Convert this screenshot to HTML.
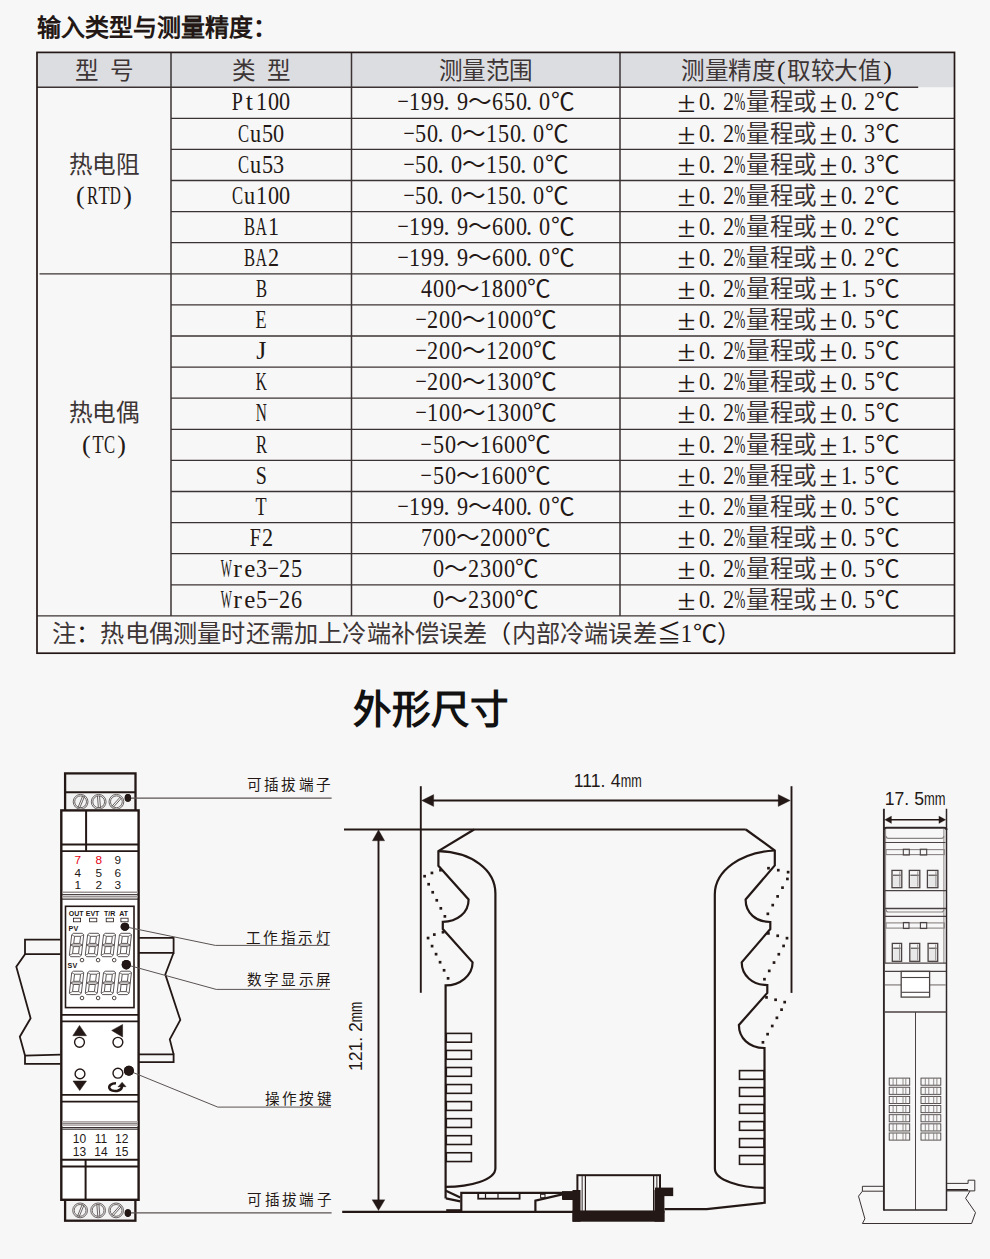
<!DOCTYPE html>
<html lang="zh-CN"><head><meta charset="utf-8"><style>
html,body{margin:0;padding:0;}
body{width:990px;height:1259px;background:#f7f7f7;position:relative;overflow:hidden;font-family:"Liberation Serif",serif;color:#231815;}
.t{position:absolute;white-space:nowrap;font-size:23.6px;line-height:26px;height:26px;}
.t i{display:inline-block;font-style:normal;text-align:center;}
.t b{display:inline-block;font-weight:normal;margin:0 -20px;}
.t b.l{font-size:26px;}
.t i.c{color:#3d3535;}
.h1{position:absolute;left:37px;top:13px;font-size:24px;font-weight:bold;line-height:30px;white-space:nowrap;letter-spacing:0px;}
.h2{position:absolute;left:352.5px;top:685px;font-family:"Liberation Sans",sans-serif;font-size:38.5px;font-weight:bold;line-height:50px;color:#111;white-space:nowrap;}
svg{position:absolute;left:0;top:0;}
</style></head><body>

<div class="h1">输入类型与测量精度：</div>
<svg width="990" height="1259" viewBox="0 0 990 1259"><rect x="37.0" y="52.4" width="917.5" height="34.800000000000004" fill="#dcdde1"/>
<line x1="171.0" y1="118.30" x2="954.5" y2="118.30" stroke="#3b3333" stroke-width="1.3"/>
<line x1="171.0" y1="149.40" x2="954.5" y2="149.40" stroke="#3b3333" stroke-width="1.3"/>
<line x1="171.0" y1="180.50" x2="954.5" y2="180.50" stroke="#3b3333" stroke-width="1.3"/>
<line x1="171.0" y1="211.60" x2="954.5" y2="211.60" stroke="#3b3333" stroke-width="1.3"/>
<line x1="171.0" y1="242.70" x2="954.5" y2="242.70" stroke="#3b3333" stroke-width="1.3"/>
<line x1="39.5" y1="273.80" x2="954.5" y2="273.80" stroke="#3b3333" stroke-width="1.3"/>
<line x1="171.0" y1="304.90" x2="954.5" y2="304.90" stroke="#3b3333" stroke-width="1.3"/>
<line x1="171.0" y1="336.00" x2="954.5" y2="336.00" stroke="#3b3333" stroke-width="1.3"/>
<line x1="171.0" y1="367.10" x2="954.5" y2="367.10" stroke="#3b3333" stroke-width="1.3"/>
<line x1="171.0" y1="398.20" x2="954.5" y2="398.20" stroke="#3b3333" stroke-width="1.3"/>
<line x1="171.0" y1="429.30" x2="954.5" y2="429.30" stroke="#3b3333" stroke-width="1.3"/>
<line x1="171.0" y1="460.40" x2="954.5" y2="460.40" stroke="#3b3333" stroke-width="1.3"/>
<line x1="171.0" y1="491.50" x2="954.5" y2="491.50" stroke="#3b3333" stroke-width="1.3"/>
<line x1="171.0" y1="522.60" x2="954.5" y2="522.60" stroke="#3b3333" stroke-width="1.3"/>
<line x1="171.0" y1="553.70" x2="954.5" y2="553.70" stroke="#3b3333" stroke-width="1.3"/>
<line x1="171.0" y1="584.80" x2="954.5" y2="584.80" stroke="#3b3333" stroke-width="1.3"/>
<line x1="37.0" y1="615.90" x2="954.5" y2="615.90" stroke="#3b3333" stroke-width="1.3"/>
<line x1="37.0" y1="87.2" x2="918.2" y2="87.2" stroke="#3b3333" stroke-width="1.5"/>
<line x1="171.0" y1="52.4" x2="171.0" y2="615.90" stroke="#3b3333" stroke-width="1.5"/>
<line x1="351.5" y1="52.4" x2="351.5" y2="615.90" stroke="#3b3333" stroke-width="1.5"/>
<line x1="620.0" y1="52.4" x2="620.0" y2="615.90" stroke="#3b3333" stroke-width="1.5"/>
<rect x="37.0" y="52.4" width="917.5" height="600.8000000000001" fill="none" stroke="#231815" stroke-width="1.7"/></svg>
<div class="t" style="left:74.50px;top:58.00px;"><i class="c" style="width:23.60px">型</i><i style="width:11.80px"></i><i class="c" style="width:23.60px">号</i></div>
<div class="t" style="left:231.75px;top:58.00px;"><i class="c" style="width:23.60px">类</i><i style="width:11.80px"></i><i class="c" style="width:23.60px">型</i></div>
<div class="t" style="left:438.55px;top:58.00px;"><i class="c" style="width:23.60px">测</i><i class="c" style="width:23.60px">量</i><i class="c" style="width:23.60px">范</i><i class="c" style="width:23.60px">围</i></div>
<div class="t" style="left:681.05px;top:58.00px;"><i class="c" style="width:23.60px">测</i><i class="c" style="width:23.60px">量</i><i class="c" style="width:23.60px">精</i><i class="c" style="width:23.60px">度</i><i style="width:11.80px"><b class="l" style="transform:scaleX(1.000)">(</b></i><i class="c" style="width:23.60px">取</i><i class="c" style="width:23.60px">较</i><i class="c" style="width:23.60px">大</i><i class="c" style="width:23.60px">值</i><i style="width:11.80px"><b class="l" style="transform:scaleX(1.000)">)</b></i></div>
<div class="t" style="left:231.75px;top:89.45px;"><i style="width:11.80px"><b class="l" style="transform:scaleX(0.767)">P</b></i><i style="width:11.80px"><b class="l" style="transform:scaleX(1.000)">t</b></i><i style="width:11.80px"><b class="l" style="transform:scaleX(0.853)">1</b></i><i style="width:11.80px"><b class="l" style="transform:scaleX(0.853)">0</b></i><i style="width:11.80px"><b class="l" style="transform:scaleX(0.853)">0</b></i></div>
<div class="t" style="left:397.25px;top:89.45px;"><i style="width:11.80px"><b class="l" style="transform:scaleX(0.78)">&#8722;</b></i><i style="width:11.80px"><b class="l" style="transform:scaleX(0.853)">1</b></i><i style="width:11.80px"><b class="l" style="transform:scaleX(0.853)">9</b></i><i style="width:11.80px"><b class="l" style="transform:scaleX(0.853)">9</b></i><i style="width:11.80px;text-align:left"><b class="l" style="margin:0 0 0 -1.2px">.</b></i><i style="width:11.80px"><b class="l" style="transform:scaleX(0.853)">9</b></i><i style="width:23.60px">～</i><i style="width:11.80px"><b class="l" style="transform:scaleX(0.853)">6</b></i><i style="width:11.80px"><b class="l" style="transform:scaleX(0.853)">5</b></i><i style="width:11.80px"><b class="l" style="transform:scaleX(0.853)">0</b></i><i style="width:11.80px;text-align:left"><b class="l" style="margin:0 0 0 -1.2px">.</b></i><i style="width:11.80px"><b class="l" style="transform:scaleX(0.853)">0</b></i><i style="width:23.60px">℃</i></div>
<div class="t" style="left:675.15px;top:89.45px;"><i style="width:23.60px"><b style="transform:scale(1.38,1.28)">±</b></i><i style="width:11.80px"><b class="l" style="transform:scaleX(0.853)">0</b></i><i style="width:11.80px;text-align:left"><b class="l" style="margin:0 0 0 -1.2px">.</b></i><i style="width:11.80px"><b class="l" style="transform:scaleX(0.853)">2</b></i><i style="width:11.80px"><b class="l" style="transform:scaleX(0.512)">%</b></i><i class="c" style="width:23.60px">量</i><i class="c" style="width:23.60px">程</i><i class="c" style="width:23.60px">或</i><i style="width:23.60px"><b style="transform:scale(1.38,1.28)">±</b></i><i style="width:11.80px"><b class="l" style="transform:scaleX(0.853)">0</b></i><i style="width:11.80px;text-align:left"><b class="l" style="margin:0 0 0 -1.2px">.</b></i><i style="width:11.80px"><b class="l" style="transform:scaleX(0.853)">2</b></i><i style="width:23.60px">℃</i></div>
<div class="t" style="left:237.65px;top:120.55px;"><i style="width:11.80px"><b class="l" style="transform:scaleX(0.640)">C</b></i><i style="width:11.80px"><b class="l" style="transform:scaleX(0.853)">u</b></i><i style="width:11.80px"><b class="l" style="transform:scaleX(0.853)">5</b></i><i style="width:11.80px"><b class="l" style="transform:scaleX(0.853)">0</b></i></div>
<div class="t" style="left:403.15px;top:120.55px;"><i style="width:11.80px"><b class="l" style="transform:scaleX(0.78)">&#8722;</b></i><i style="width:11.80px"><b class="l" style="transform:scaleX(0.853)">5</b></i><i style="width:11.80px"><b class="l" style="transform:scaleX(0.853)">0</b></i><i style="width:11.80px;text-align:left"><b class="l" style="margin:0 0 0 -1.2px">.</b></i><i style="width:11.80px"><b class="l" style="transform:scaleX(0.853)">0</b></i><i style="width:23.60px">～</i><i style="width:11.80px"><b class="l" style="transform:scaleX(0.853)">1</b></i><i style="width:11.80px"><b class="l" style="transform:scaleX(0.853)">5</b></i><i style="width:11.80px"><b class="l" style="transform:scaleX(0.853)">0</b></i><i style="width:11.80px;text-align:left"><b class="l" style="margin:0 0 0 -1.2px">.</b></i><i style="width:11.80px"><b class="l" style="transform:scaleX(0.853)">0</b></i><i style="width:23.60px">℃</i></div>
<div class="t" style="left:675.15px;top:120.55px;"><i style="width:23.60px"><b style="transform:scale(1.38,1.28)">±</b></i><i style="width:11.80px"><b class="l" style="transform:scaleX(0.853)">0</b></i><i style="width:11.80px;text-align:left"><b class="l" style="margin:0 0 0 -1.2px">.</b></i><i style="width:11.80px"><b class="l" style="transform:scaleX(0.853)">2</b></i><i style="width:11.80px"><b class="l" style="transform:scaleX(0.512)">%</b></i><i class="c" style="width:23.60px">量</i><i class="c" style="width:23.60px">程</i><i class="c" style="width:23.60px">或</i><i style="width:23.60px"><b style="transform:scale(1.38,1.28)">±</b></i><i style="width:11.80px"><b class="l" style="transform:scaleX(0.853)">0</b></i><i style="width:11.80px;text-align:left"><b class="l" style="margin:0 0 0 -1.2px">.</b></i><i style="width:11.80px"><b class="l" style="transform:scaleX(0.853)">3</b></i><i style="width:23.60px">℃</i></div>
<div class="t" style="left:237.65px;top:151.65px;"><i style="width:11.80px"><b class="l" style="transform:scaleX(0.640)">C</b></i><i style="width:11.80px"><b class="l" style="transform:scaleX(0.853)">u</b></i><i style="width:11.80px"><b class="l" style="transform:scaleX(0.853)">5</b></i><i style="width:11.80px"><b class="l" style="transform:scaleX(0.853)">3</b></i></div>
<div class="t" style="left:403.15px;top:151.65px;"><i style="width:11.80px"><b class="l" style="transform:scaleX(0.78)">&#8722;</b></i><i style="width:11.80px"><b class="l" style="transform:scaleX(0.853)">5</b></i><i style="width:11.80px"><b class="l" style="transform:scaleX(0.853)">0</b></i><i style="width:11.80px;text-align:left"><b class="l" style="margin:0 0 0 -1.2px">.</b></i><i style="width:11.80px"><b class="l" style="transform:scaleX(0.853)">0</b></i><i style="width:23.60px">～</i><i style="width:11.80px"><b class="l" style="transform:scaleX(0.853)">1</b></i><i style="width:11.80px"><b class="l" style="transform:scaleX(0.853)">5</b></i><i style="width:11.80px"><b class="l" style="transform:scaleX(0.853)">0</b></i><i style="width:11.80px;text-align:left"><b class="l" style="margin:0 0 0 -1.2px">.</b></i><i style="width:11.80px"><b class="l" style="transform:scaleX(0.853)">0</b></i><i style="width:23.60px">℃</i></div>
<div class="t" style="left:675.15px;top:151.65px;"><i style="width:23.60px"><b style="transform:scale(1.38,1.28)">±</b></i><i style="width:11.80px"><b class="l" style="transform:scaleX(0.853)">0</b></i><i style="width:11.80px;text-align:left"><b class="l" style="margin:0 0 0 -1.2px">.</b></i><i style="width:11.80px"><b class="l" style="transform:scaleX(0.853)">2</b></i><i style="width:11.80px"><b class="l" style="transform:scaleX(0.512)">%</b></i><i class="c" style="width:23.60px">量</i><i class="c" style="width:23.60px">程</i><i class="c" style="width:23.60px">或</i><i style="width:23.60px"><b style="transform:scale(1.38,1.28)">±</b></i><i style="width:11.80px"><b class="l" style="transform:scaleX(0.853)">0</b></i><i style="width:11.80px;text-align:left"><b class="l" style="margin:0 0 0 -1.2px">.</b></i><i style="width:11.80px"><b class="l" style="transform:scaleX(0.853)">3</b></i><i style="width:23.60px">℃</i></div>
<div class="t" style="left:231.75px;top:182.75px;"><i style="width:11.80px"><b class="l" style="transform:scaleX(0.640)">C</b></i><i style="width:11.80px"><b class="l" style="transform:scaleX(0.853)">u</b></i><i style="width:11.80px"><b class="l" style="transform:scaleX(0.853)">1</b></i><i style="width:11.80px"><b class="l" style="transform:scaleX(0.853)">0</b></i><i style="width:11.80px"><b class="l" style="transform:scaleX(0.853)">0</b></i></div>
<div class="t" style="left:403.15px;top:182.75px;"><i style="width:11.80px"><b class="l" style="transform:scaleX(0.78)">&#8722;</b></i><i style="width:11.80px"><b class="l" style="transform:scaleX(0.853)">5</b></i><i style="width:11.80px"><b class="l" style="transform:scaleX(0.853)">0</b></i><i style="width:11.80px;text-align:left"><b class="l" style="margin:0 0 0 -1.2px">.</b></i><i style="width:11.80px"><b class="l" style="transform:scaleX(0.853)">0</b></i><i style="width:23.60px">～</i><i style="width:11.80px"><b class="l" style="transform:scaleX(0.853)">1</b></i><i style="width:11.80px"><b class="l" style="transform:scaleX(0.853)">5</b></i><i style="width:11.80px"><b class="l" style="transform:scaleX(0.853)">0</b></i><i style="width:11.80px;text-align:left"><b class="l" style="margin:0 0 0 -1.2px">.</b></i><i style="width:11.80px"><b class="l" style="transform:scaleX(0.853)">0</b></i><i style="width:23.60px">℃</i></div>
<div class="t" style="left:675.15px;top:182.75px;"><i style="width:23.60px"><b style="transform:scale(1.38,1.28)">±</b></i><i style="width:11.80px"><b class="l" style="transform:scaleX(0.853)">0</b></i><i style="width:11.80px;text-align:left"><b class="l" style="margin:0 0 0 -1.2px">.</b></i><i style="width:11.80px"><b class="l" style="transform:scaleX(0.853)">2</b></i><i style="width:11.80px"><b class="l" style="transform:scaleX(0.512)">%</b></i><i class="c" style="width:23.60px">量</i><i class="c" style="width:23.60px">程</i><i class="c" style="width:23.60px">或</i><i style="width:23.60px"><b style="transform:scale(1.38,1.28)">±</b></i><i style="width:11.80px"><b class="l" style="transform:scaleX(0.853)">0</b></i><i style="width:11.80px;text-align:left"><b class="l" style="margin:0 0 0 -1.2px">.</b></i><i style="width:11.80px"><b class="l" style="transform:scaleX(0.853)">2</b></i><i style="width:23.60px">℃</i></div>
<div class="t" style="left:243.55px;top:213.85px;"><i style="width:11.80px"><b class="l" style="transform:scaleX(0.640)">B</b></i><i style="width:11.80px"><b class="l" style="transform:scaleX(0.591)">A</b></i><i style="width:11.80px"><b class="l" style="transform:scaleX(0.853)">1</b></i></div>
<div class="t" style="left:397.25px;top:213.85px;"><i style="width:11.80px"><b class="l" style="transform:scaleX(0.78)">&#8722;</b></i><i style="width:11.80px"><b class="l" style="transform:scaleX(0.853)">1</b></i><i style="width:11.80px"><b class="l" style="transform:scaleX(0.853)">9</b></i><i style="width:11.80px"><b class="l" style="transform:scaleX(0.853)">9</b></i><i style="width:11.80px;text-align:left"><b class="l" style="margin:0 0 0 -1.2px">.</b></i><i style="width:11.80px"><b class="l" style="transform:scaleX(0.853)">9</b></i><i style="width:23.60px">～</i><i style="width:11.80px"><b class="l" style="transform:scaleX(0.853)">6</b></i><i style="width:11.80px"><b class="l" style="transform:scaleX(0.853)">0</b></i><i style="width:11.80px"><b class="l" style="transform:scaleX(0.853)">0</b></i><i style="width:11.80px;text-align:left"><b class="l" style="margin:0 0 0 -1.2px">.</b></i><i style="width:11.80px"><b class="l" style="transform:scaleX(0.853)">0</b></i><i style="width:23.60px">℃</i></div>
<div class="t" style="left:675.15px;top:213.85px;"><i style="width:23.60px"><b style="transform:scale(1.38,1.28)">±</b></i><i style="width:11.80px"><b class="l" style="transform:scaleX(0.853)">0</b></i><i style="width:11.80px;text-align:left"><b class="l" style="margin:0 0 0 -1.2px">.</b></i><i style="width:11.80px"><b class="l" style="transform:scaleX(0.853)">2</b></i><i style="width:11.80px"><b class="l" style="transform:scaleX(0.512)">%</b></i><i class="c" style="width:23.60px">量</i><i class="c" style="width:23.60px">程</i><i class="c" style="width:23.60px">或</i><i style="width:23.60px"><b style="transform:scale(1.38,1.28)">±</b></i><i style="width:11.80px"><b class="l" style="transform:scaleX(0.853)">0</b></i><i style="width:11.80px;text-align:left"><b class="l" style="margin:0 0 0 -1.2px">.</b></i><i style="width:11.80px"><b class="l" style="transform:scaleX(0.853)">2</b></i><i style="width:23.60px">℃</i></div>
<div class="t" style="left:243.55px;top:244.95px;"><i style="width:11.80px"><b class="l" style="transform:scaleX(0.640)">B</b></i><i style="width:11.80px"><b class="l" style="transform:scaleX(0.591)">A</b></i><i style="width:11.80px"><b class="l" style="transform:scaleX(0.853)">2</b></i></div>
<div class="t" style="left:397.25px;top:244.95px;"><i style="width:11.80px"><b class="l" style="transform:scaleX(0.78)">&#8722;</b></i><i style="width:11.80px"><b class="l" style="transform:scaleX(0.853)">1</b></i><i style="width:11.80px"><b class="l" style="transform:scaleX(0.853)">9</b></i><i style="width:11.80px"><b class="l" style="transform:scaleX(0.853)">9</b></i><i style="width:11.80px;text-align:left"><b class="l" style="margin:0 0 0 -1.2px">.</b></i><i style="width:11.80px"><b class="l" style="transform:scaleX(0.853)">9</b></i><i style="width:23.60px">～</i><i style="width:11.80px"><b class="l" style="transform:scaleX(0.853)">6</b></i><i style="width:11.80px"><b class="l" style="transform:scaleX(0.853)">0</b></i><i style="width:11.80px"><b class="l" style="transform:scaleX(0.853)">0</b></i><i style="width:11.80px;text-align:left"><b class="l" style="margin:0 0 0 -1.2px">.</b></i><i style="width:11.80px"><b class="l" style="transform:scaleX(0.853)">0</b></i><i style="width:23.60px">℃</i></div>
<div class="t" style="left:675.15px;top:244.95px;"><i style="width:23.60px"><b style="transform:scale(1.38,1.28)">±</b></i><i style="width:11.80px"><b class="l" style="transform:scaleX(0.853)">0</b></i><i style="width:11.80px;text-align:left"><b class="l" style="margin:0 0 0 -1.2px">.</b></i><i style="width:11.80px"><b class="l" style="transform:scaleX(0.853)">2</b></i><i style="width:11.80px"><b class="l" style="transform:scaleX(0.512)">%</b></i><i class="c" style="width:23.60px">量</i><i class="c" style="width:23.60px">程</i><i class="c" style="width:23.60px">或</i><i style="width:23.60px"><b style="transform:scale(1.38,1.28)">±</b></i><i style="width:11.80px"><b class="l" style="transform:scaleX(0.853)">0</b></i><i style="width:11.80px;text-align:left"><b class="l" style="margin:0 0 0 -1.2px">.</b></i><i style="width:11.80px"><b class="l" style="transform:scaleX(0.853)">2</b></i><i style="width:23.60px">℃</i></div>
<div class="t" style="left:255.35px;top:276.05px;"><i style="width:11.80px"><b class="l" style="transform:scaleX(0.640)">B</b></i></div>
<div class="t" style="left:420.85px;top:276.05px;"><i style="width:11.80px"><b class="l" style="transform:scaleX(0.853)">4</b></i><i style="width:11.80px"><b class="l" style="transform:scaleX(0.853)">0</b></i><i style="width:11.80px"><b class="l" style="transform:scaleX(0.853)">0</b></i><i style="width:23.60px">～</i><i style="width:11.80px"><b class="l" style="transform:scaleX(0.853)">1</b></i><i style="width:11.80px"><b class="l" style="transform:scaleX(0.853)">8</b></i><i style="width:11.80px"><b class="l" style="transform:scaleX(0.853)">0</b></i><i style="width:11.80px"><b class="l" style="transform:scaleX(0.853)">0</b></i><i style="width:23.60px">℃</i></div>
<div class="t" style="left:675.15px;top:276.05px;"><i style="width:23.60px"><b style="transform:scale(1.38,1.28)">±</b></i><i style="width:11.80px"><b class="l" style="transform:scaleX(0.853)">0</b></i><i style="width:11.80px;text-align:left"><b class="l" style="margin:0 0 0 -1.2px">.</b></i><i style="width:11.80px"><b class="l" style="transform:scaleX(0.853)">2</b></i><i style="width:11.80px"><b class="l" style="transform:scaleX(0.512)">%</b></i><i class="c" style="width:23.60px">量</i><i class="c" style="width:23.60px">程</i><i class="c" style="width:23.60px">或</i><i style="width:23.60px"><b style="transform:scale(1.38,1.28)">±</b></i><i style="width:11.80px"><b class="l" style="transform:scaleX(0.853)">1</b></i><i style="width:11.80px;text-align:left"><b class="l" style="margin:0 0 0 -1.2px">.</b></i><i style="width:11.80px"><b class="l" style="transform:scaleX(0.853)">5</b></i><i style="width:23.60px">℃</i></div>
<div class="t" style="left:255.35px;top:307.15px;"><i style="width:11.80px"><b class="l" style="transform:scaleX(0.698)">E</b></i></div>
<div class="t" style="left:414.95px;top:307.15px;"><i style="width:11.80px"><b class="l" style="transform:scaleX(0.78)">&#8722;</b></i><i style="width:11.80px"><b class="l" style="transform:scaleX(0.853)">2</b></i><i style="width:11.80px"><b class="l" style="transform:scaleX(0.853)">0</b></i><i style="width:11.80px"><b class="l" style="transform:scaleX(0.853)">0</b></i><i style="width:23.60px">～</i><i style="width:11.80px"><b class="l" style="transform:scaleX(0.853)">1</b></i><i style="width:11.80px"><b class="l" style="transform:scaleX(0.853)">0</b></i><i style="width:11.80px"><b class="l" style="transform:scaleX(0.853)">0</b></i><i style="width:11.80px"><b class="l" style="transform:scaleX(0.853)">0</b></i><i style="width:23.60px">℃</i></div>
<div class="t" style="left:675.15px;top:307.15px;"><i style="width:23.60px"><b style="transform:scale(1.38,1.28)">±</b></i><i style="width:11.80px"><b class="l" style="transform:scaleX(0.853)">0</b></i><i style="width:11.80px;text-align:left"><b class="l" style="margin:0 0 0 -1.2px">.</b></i><i style="width:11.80px"><b class="l" style="transform:scaleX(0.853)">2</b></i><i style="width:11.80px"><b class="l" style="transform:scaleX(0.512)">%</b></i><i class="c" style="width:23.60px">量</i><i class="c" style="width:23.60px">程</i><i class="c" style="width:23.60px">或</i><i style="width:23.60px"><b style="transform:scale(1.38,1.28)">±</b></i><i style="width:11.80px"><b class="l" style="transform:scaleX(0.853)">0</b></i><i style="width:11.80px;text-align:left"><b class="l" style="margin:0 0 0 -1.2px">.</b></i><i style="width:11.80px"><b class="l" style="transform:scaleX(0.853)">5</b></i><i style="width:23.60px">℃</i></div>
<div class="t" style="left:255.35px;top:338.25px;"><i style="width:11.80px"><b class="l" style="transform:scaleX(1.000)">J</b></i></div>
<div class="t" style="left:414.95px;top:338.25px;"><i style="width:11.80px"><b class="l" style="transform:scaleX(0.78)">&#8722;</b></i><i style="width:11.80px"><b class="l" style="transform:scaleX(0.853)">2</b></i><i style="width:11.80px"><b class="l" style="transform:scaleX(0.853)">0</b></i><i style="width:11.80px"><b class="l" style="transform:scaleX(0.853)">0</b></i><i style="width:23.60px">～</i><i style="width:11.80px"><b class="l" style="transform:scaleX(0.853)">1</b></i><i style="width:11.80px"><b class="l" style="transform:scaleX(0.853)">2</b></i><i style="width:11.80px"><b class="l" style="transform:scaleX(0.853)">0</b></i><i style="width:11.80px"><b class="l" style="transform:scaleX(0.853)">0</b></i><i style="width:23.60px">℃</i></div>
<div class="t" style="left:675.15px;top:338.25px;"><i style="width:23.60px"><b style="transform:scale(1.38,1.28)">±</b></i><i style="width:11.80px"><b class="l" style="transform:scaleX(0.853)">0</b></i><i style="width:11.80px;text-align:left"><b class="l" style="margin:0 0 0 -1.2px">.</b></i><i style="width:11.80px"><b class="l" style="transform:scaleX(0.853)">2</b></i><i style="width:11.80px"><b class="l" style="transform:scaleX(0.512)">%</b></i><i class="c" style="width:23.60px">量</i><i class="c" style="width:23.60px">程</i><i class="c" style="width:23.60px">或</i><i style="width:23.60px"><b style="transform:scale(1.38,1.28)">±</b></i><i style="width:11.80px"><b class="l" style="transform:scaleX(0.853)">0</b></i><i style="width:11.80px;text-align:left"><b class="l" style="margin:0 0 0 -1.2px">.</b></i><i style="width:11.80px"><b class="l" style="transform:scaleX(0.853)">5</b></i><i style="width:23.60px">℃</i></div>
<div class="t" style="left:255.35px;top:369.35px;"><i style="width:11.80px"><b class="l" style="transform:scaleX(0.591)">K</b></i></div>
<div class="t" style="left:414.95px;top:369.35px;"><i style="width:11.80px"><b class="l" style="transform:scaleX(0.78)">&#8722;</b></i><i style="width:11.80px"><b class="l" style="transform:scaleX(0.853)">2</b></i><i style="width:11.80px"><b class="l" style="transform:scaleX(0.853)">0</b></i><i style="width:11.80px"><b class="l" style="transform:scaleX(0.853)">0</b></i><i style="width:23.60px">～</i><i style="width:11.80px"><b class="l" style="transform:scaleX(0.853)">1</b></i><i style="width:11.80px"><b class="l" style="transform:scaleX(0.853)">3</b></i><i style="width:11.80px"><b class="l" style="transform:scaleX(0.853)">0</b></i><i style="width:11.80px"><b class="l" style="transform:scaleX(0.853)">0</b></i><i style="width:23.60px">℃</i></div>
<div class="t" style="left:675.15px;top:369.35px;"><i style="width:23.60px"><b style="transform:scale(1.38,1.28)">±</b></i><i style="width:11.80px"><b class="l" style="transform:scaleX(0.853)">0</b></i><i style="width:11.80px;text-align:left"><b class="l" style="margin:0 0 0 -1.2px">.</b></i><i style="width:11.80px"><b class="l" style="transform:scaleX(0.853)">2</b></i><i style="width:11.80px"><b class="l" style="transform:scaleX(0.512)">%</b></i><i class="c" style="width:23.60px">量</i><i class="c" style="width:23.60px">程</i><i class="c" style="width:23.60px">或</i><i style="width:23.60px"><b style="transform:scale(1.38,1.28)">±</b></i><i style="width:11.80px"><b class="l" style="transform:scaleX(0.853)">0</b></i><i style="width:11.80px;text-align:left"><b class="l" style="margin:0 0 0 -1.2px">.</b></i><i style="width:11.80px"><b class="l" style="transform:scaleX(0.853)">5</b></i><i style="width:23.60px">℃</i></div>
<div class="t" style="left:255.35px;top:400.45px;"><i style="width:11.80px"><b class="l" style="transform:scaleX(0.591)">N</b></i></div>
<div class="t" style="left:414.95px;top:400.45px;"><i style="width:11.80px"><b class="l" style="transform:scaleX(0.78)">&#8722;</b></i><i style="width:11.80px"><b class="l" style="transform:scaleX(0.853)">1</b></i><i style="width:11.80px"><b class="l" style="transform:scaleX(0.853)">0</b></i><i style="width:11.80px"><b class="l" style="transform:scaleX(0.853)">0</b></i><i style="width:23.60px">～</i><i style="width:11.80px"><b class="l" style="transform:scaleX(0.853)">1</b></i><i style="width:11.80px"><b class="l" style="transform:scaleX(0.853)">3</b></i><i style="width:11.80px"><b class="l" style="transform:scaleX(0.853)">0</b></i><i style="width:11.80px"><b class="l" style="transform:scaleX(0.853)">0</b></i><i style="width:23.60px">℃</i></div>
<div class="t" style="left:675.15px;top:400.45px;"><i style="width:23.60px"><b style="transform:scale(1.38,1.28)">±</b></i><i style="width:11.80px"><b class="l" style="transform:scaleX(0.853)">0</b></i><i style="width:11.80px;text-align:left"><b class="l" style="margin:0 0 0 -1.2px">.</b></i><i style="width:11.80px"><b class="l" style="transform:scaleX(0.853)">2</b></i><i style="width:11.80px"><b class="l" style="transform:scaleX(0.512)">%</b></i><i class="c" style="width:23.60px">量</i><i class="c" style="width:23.60px">程</i><i class="c" style="width:23.60px">或</i><i style="width:23.60px"><b style="transform:scale(1.38,1.28)">±</b></i><i style="width:11.80px"><b class="l" style="transform:scaleX(0.853)">0</b></i><i style="width:11.80px;text-align:left"><b class="l" style="margin:0 0 0 -1.2px">.</b></i><i style="width:11.80px"><b class="l" style="transform:scaleX(0.853)">5</b></i><i style="width:23.60px">℃</i></div>
<div class="t" style="left:255.35px;top:431.55px;"><i style="width:11.80px"><b class="l" style="transform:scaleX(0.640)">R</b></i></div>
<div class="t" style="left:420.85px;top:431.55px;"><i style="width:11.80px"><b class="l" style="transform:scaleX(0.78)">&#8722;</b></i><i style="width:11.80px"><b class="l" style="transform:scaleX(0.853)">5</b></i><i style="width:11.80px"><b class="l" style="transform:scaleX(0.853)">0</b></i><i style="width:23.60px">～</i><i style="width:11.80px"><b class="l" style="transform:scaleX(0.853)">1</b></i><i style="width:11.80px"><b class="l" style="transform:scaleX(0.853)">6</b></i><i style="width:11.80px"><b class="l" style="transform:scaleX(0.853)">0</b></i><i style="width:11.80px"><b class="l" style="transform:scaleX(0.853)">0</b></i><i style="width:23.60px">℃</i></div>
<div class="t" style="left:675.15px;top:431.55px;"><i style="width:23.60px"><b style="transform:scale(1.38,1.28)">±</b></i><i style="width:11.80px"><b class="l" style="transform:scaleX(0.853)">0</b></i><i style="width:11.80px;text-align:left"><b class="l" style="margin:0 0 0 -1.2px">.</b></i><i style="width:11.80px"><b class="l" style="transform:scaleX(0.853)">2</b></i><i style="width:11.80px"><b class="l" style="transform:scaleX(0.512)">%</b></i><i class="c" style="width:23.60px">量</i><i class="c" style="width:23.60px">程</i><i class="c" style="width:23.60px">或</i><i style="width:23.60px"><b style="transform:scale(1.38,1.28)">±</b></i><i style="width:11.80px"><b class="l" style="transform:scaleX(0.853)">1</b></i><i style="width:11.80px;text-align:left"><b class="l" style="margin:0 0 0 -1.2px">.</b></i><i style="width:11.80px"><b class="l" style="transform:scaleX(0.853)">5</b></i><i style="width:23.60px">℃</i></div>
<div class="t" style="left:255.35px;top:462.65px;"><i style="width:11.80px"><b class="l" style="transform:scaleX(0.767)">S</b></i></div>
<div class="t" style="left:420.85px;top:462.65px;"><i style="width:11.80px"><b class="l" style="transform:scaleX(0.78)">&#8722;</b></i><i style="width:11.80px"><b class="l" style="transform:scaleX(0.853)">5</b></i><i style="width:11.80px"><b class="l" style="transform:scaleX(0.853)">0</b></i><i style="width:23.60px">～</i><i style="width:11.80px"><b class="l" style="transform:scaleX(0.853)">1</b></i><i style="width:11.80px"><b class="l" style="transform:scaleX(0.853)">6</b></i><i style="width:11.80px"><b class="l" style="transform:scaleX(0.853)">0</b></i><i style="width:11.80px"><b class="l" style="transform:scaleX(0.853)">0</b></i><i style="width:23.60px">℃</i></div>
<div class="t" style="left:675.15px;top:462.65px;"><i style="width:23.60px"><b style="transform:scale(1.38,1.28)">±</b></i><i style="width:11.80px"><b class="l" style="transform:scaleX(0.853)">0</b></i><i style="width:11.80px;text-align:left"><b class="l" style="margin:0 0 0 -1.2px">.</b></i><i style="width:11.80px"><b class="l" style="transform:scaleX(0.853)">2</b></i><i style="width:11.80px"><b class="l" style="transform:scaleX(0.512)">%</b></i><i class="c" style="width:23.60px">量</i><i class="c" style="width:23.60px">程</i><i class="c" style="width:23.60px">或</i><i style="width:23.60px"><b style="transform:scale(1.38,1.28)">±</b></i><i style="width:11.80px"><b class="l" style="transform:scaleX(0.853)">1</b></i><i style="width:11.80px;text-align:left"><b class="l" style="margin:0 0 0 -1.2px">.</b></i><i style="width:11.80px"><b class="l" style="transform:scaleX(0.853)">5</b></i><i style="width:23.60px">℃</i></div>
<div class="t" style="left:255.35px;top:493.75px;"><i style="width:11.80px"><b class="l" style="transform:scaleX(0.698)">T</b></i></div>
<div class="t" style="left:397.25px;top:493.75px;"><i style="width:11.80px"><b class="l" style="transform:scaleX(0.78)">&#8722;</b></i><i style="width:11.80px"><b class="l" style="transform:scaleX(0.853)">1</b></i><i style="width:11.80px"><b class="l" style="transform:scaleX(0.853)">9</b></i><i style="width:11.80px"><b class="l" style="transform:scaleX(0.853)">9</b></i><i style="width:11.80px;text-align:left"><b class="l" style="margin:0 0 0 -1.2px">.</b></i><i style="width:11.80px"><b class="l" style="transform:scaleX(0.853)">9</b></i><i style="width:23.60px">～</i><i style="width:11.80px"><b class="l" style="transform:scaleX(0.853)">4</b></i><i style="width:11.80px"><b class="l" style="transform:scaleX(0.853)">0</b></i><i style="width:11.80px"><b class="l" style="transform:scaleX(0.853)">0</b></i><i style="width:11.80px;text-align:left"><b class="l" style="margin:0 0 0 -1.2px">.</b></i><i style="width:11.80px"><b class="l" style="transform:scaleX(0.853)">0</b></i><i style="width:23.60px">℃</i></div>
<div class="t" style="left:675.15px;top:493.75px;"><i style="width:23.60px"><b style="transform:scale(1.38,1.28)">±</b></i><i style="width:11.80px"><b class="l" style="transform:scaleX(0.853)">0</b></i><i style="width:11.80px;text-align:left"><b class="l" style="margin:0 0 0 -1.2px">.</b></i><i style="width:11.80px"><b class="l" style="transform:scaleX(0.853)">2</b></i><i style="width:11.80px"><b class="l" style="transform:scaleX(0.512)">%</b></i><i class="c" style="width:23.60px">量</i><i class="c" style="width:23.60px">程</i><i class="c" style="width:23.60px">或</i><i style="width:23.60px"><b style="transform:scale(1.38,1.28)">±</b></i><i style="width:11.80px"><b class="l" style="transform:scaleX(0.853)">0</b></i><i style="width:11.80px;text-align:left"><b class="l" style="margin:0 0 0 -1.2px">.</b></i><i style="width:11.80px"><b class="l" style="transform:scaleX(0.853)">5</b></i><i style="width:23.60px">℃</i></div>
<div class="t" style="left:249.45px;top:524.85px;"><i style="width:11.80px"><b class="l" style="transform:scaleX(0.767)">F</b></i><i style="width:11.80px"><b class="l" style="transform:scaleX(0.853)">2</b></i></div>
<div class="t" style="left:420.85px;top:524.85px;"><i style="width:11.80px"><b class="l" style="transform:scaleX(0.853)">7</b></i><i style="width:11.80px"><b class="l" style="transform:scaleX(0.853)">0</b></i><i style="width:11.80px"><b class="l" style="transform:scaleX(0.853)">0</b></i><i style="width:23.60px">～</i><i style="width:11.80px"><b class="l" style="transform:scaleX(0.853)">2</b></i><i style="width:11.80px"><b class="l" style="transform:scaleX(0.853)">0</b></i><i style="width:11.80px"><b class="l" style="transform:scaleX(0.853)">0</b></i><i style="width:11.80px"><b class="l" style="transform:scaleX(0.853)">0</b></i><i style="width:23.60px">℃</i></div>
<div class="t" style="left:675.15px;top:524.85px;"><i style="width:23.60px"><b style="transform:scale(1.38,1.28)">±</b></i><i style="width:11.80px"><b class="l" style="transform:scaleX(0.853)">0</b></i><i style="width:11.80px;text-align:left"><b class="l" style="margin:0 0 0 -1.2px">.</b></i><i style="width:11.80px"><b class="l" style="transform:scaleX(0.853)">2</b></i><i style="width:11.80px"><b class="l" style="transform:scaleX(0.512)">%</b></i><i class="c" style="width:23.60px">量</i><i class="c" style="width:23.60px">程</i><i class="c" style="width:23.60px">或</i><i style="width:23.60px"><b style="transform:scale(1.38,1.28)">±</b></i><i style="width:11.80px"><b class="l" style="transform:scaleX(0.853)">0</b></i><i style="width:11.80px;text-align:left"><b class="l" style="margin:0 0 0 -1.2px">.</b></i><i style="width:11.80px"><b class="l" style="transform:scaleX(0.853)">5</b></i><i style="width:23.60px">℃</i></div>
<div class="t" style="left:219.95px;top:555.95px;"><i style="width:11.80px"><b class="l" style="transform:scaleX(0.452)">W</b></i><i style="width:11.80px"><b class="l" style="transform:scaleX(1.000)">r</b></i><i style="width:11.80px"><b class="l" style="transform:scaleX(0.961)">e</b></i><i style="width:11.80px"><b class="l" style="transform:scaleX(0.853)">3</b></i><i style="width:11.80px"><b class="l" style="transform:scaleX(0.78)">&#8722;</b></i><i style="width:11.80px"><b class="l" style="transform:scaleX(0.853)">2</b></i><i style="width:11.80px"><b class="l" style="transform:scaleX(0.853)">5</b></i></div>
<div class="t" style="left:432.65px;top:555.95px;"><i style="width:11.80px"><b class="l" style="transform:scaleX(0.853)">0</b></i><i style="width:23.60px">～</i><i style="width:11.80px"><b class="l" style="transform:scaleX(0.853)">2</b></i><i style="width:11.80px"><b class="l" style="transform:scaleX(0.853)">3</b></i><i style="width:11.80px"><b class="l" style="transform:scaleX(0.853)">0</b></i><i style="width:11.80px"><b class="l" style="transform:scaleX(0.853)">0</b></i><i style="width:23.60px">℃</i></div>
<div class="t" style="left:675.15px;top:555.95px;"><i style="width:23.60px"><b style="transform:scale(1.38,1.28)">±</b></i><i style="width:11.80px"><b class="l" style="transform:scaleX(0.853)">0</b></i><i style="width:11.80px;text-align:left"><b class="l" style="margin:0 0 0 -1.2px">.</b></i><i style="width:11.80px"><b class="l" style="transform:scaleX(0.853)">2</b></i><i style="width:11.80px"><b class="l" style="transform:scaleX(0.512)">%</b></i><i class="c" style="width:23.60px">量</i><i class="c" style="width:23.60px">程</i><i class="c" style="width:23.60px">或</i><i style="width:23.60px"><b style="transform:scale(1.38,1.28)">±</b></i><i style="width:11.80px"><b class="l" style="transform:scaleX(0.853)">0</b></i><i style="width:11.80px;text-align:left"><b class="l" style="margin:0 0 0 -1.2px">.</b></i><i style="width:11.80px"><b class="l" style="transform:scaleX(0.853)">5</b></i><i style="width:23.60px">℃</i></div>
<div class="t" style="left:219.95px;top:587.05px;"><i style="width:11.80px"><b class="l" style="transform:scaleX(0.452)">W</b></i><i style="width:11.80px"><b class="l" style="transform:scaleX(1.000)">r</b></i><i style="width:11.80px"><b class="l" style="transform:scaleX(0.961)">e</b></i><i style="width:11.80px"><b class="l" style="transform:scaleX(0.853)">5</b></i><i style="width:11.80px"><b class="l" style="transform:scaleX(0.78)">&#8722;</b></i><i style="width:11.80px"><b class="l" style="transform:scaleX(0.853)">2</b></i><i style="width:11.80px"><b class="l" style="transform:scaleX(0.853)">6</b></i></div>
<div class="t" style="left:432.65px;top:587.05px;"><i style="width:11.80px"><b class="l" style="transform:scaleX(0.853)">0</b></i><i style="width:23.60px">～</i><i style="width:11.80px"><b class="l" style="transform:scaleX(0.853)">2</b></i><i style="width:11.80px"><b class="l" style="transform:scaleX(0.853)">3</b></i><i style="width:11.80px"><b class="l" style="transform:scaleX(0.853)">0</b></i><i style="width:11.80px"><b class="l" style="transform:scaleX(0.853)">0</b></i><i style="width:23.60px">℃</i></div>
<div class="t" style="left:675.15px;top:587.05px;"><i style="width:23.60px"><b style="transform:scale(1.38,1.28)">±</b></i><i style="width:11.80px"><b class="l" style="transform:scaleX(0.853)">0</b></i><i style="width:11.80px;text-align:left"><b class="l" style="margin:0 0 0 -1.2px">.</b></i><i style="width:11.80px"><b class="l" style="transform:scaleX(0.853)">2</b></i><i style="width:11.80px"><b class="l" style="transform:scaleX(0.512)">%</b></i><i class="c" style="width:23.60px">量</i><i class="c" style="width:23.60px">程</i><i class="c" style="width:23.60px">或</i><i style="width:23.60px"><b style="transform:scale(1.38,1.28)">±</b></i><i style="width:11.80px"><b class="l" style="transform:scaleX(0.853)">0</b></i><i style="width:11.80px;text-align:left"><b class="l" style="margin:0 0 0 -1.2px">.</b></i><i style="width:11.80px"><b class="l" style="transform:scaleX(0.853)">5</b></i><i style="width:23.60px">℃</i></div>
<div class="t" style="left:68.60px;top:151.65px;"><i class="c" style="width:23.60px">热</i><i class="c" style="width:23.60px">电</i><i class="c" style="width:23.60px">阻</i></div>
<div class="t" style="left:74.50px;top:182.75px;"><i style="width:11.80px"><b class="l" style="transform:scaleX(1.000)">(</b></i><i style="width:11.80px"><b class="l" style="transform:scaleX(0.640)">R</b></i><i style="width:11.80px"><b class="l" style="transform:scaleX(0.698)">T</b></i><i style="width:11.80px"><b class="l" style="transform:scaleX(0.591)">D</b></i><i style="width:11.80px"><b class="l" style="transform:scaleX(1.000)">)</b></i></div>
<div class="t" style="left:68.60px;top:400.45px;"><i class="c" style="width:23.60px">热</i><i class="c" style="width:23.60px">电</i><i class="c" style="width:23.60px">偶</i></div>
<div class="t" style="left:80.40px;top:431.55px;"><i style="width:11.80px"><b class="l" style="transform:scaleX(1.000)">(</b></i><i style="width:11.80px"><b class="l" style="transform:scaleX(0.698)">T</b></i><i style="width:11.80px"><b class="l" style="transform:scaleX(0.640)">C</b></i><i style="width:11.80px"><b class="l" style="transform:scaleX(1.000)">)</b></i></div>
<div class="t" style="left:52px;top:621.25px;font-size:24.2px"><i class="c" style="width:24.20px">注</i><i style="width:24.20px">：</i><i class="c" style="width:24.20px">热</i><i class="c" style="width:24.20px">电</i><i class="c" style="width:24.20px">偶</i><i class="c" style="width:24.20px">测</i><i class="c" style="width:24.20px">量</i><i class="c" style="width:24.20px">时</i><i class="c" style="width:24.20px">还</i><i class="c" style="width:24.20px">需</i><i class="c" style="width:24.20px">加</i><i class="c" style="width:24.20px">上</i><i class="c" style="width:24.20px">冷</i><i class="c" style="width:24.20px">端</i><i class="c" style="width:24.20px">补</i><i class="c" style="width:24.20px">偿</i><i class="c" style="width:24.20px">误</i><i class="c" style="width:24.20px">差</i><i style="width:24.20px">（</i><i class="c" style="width:24.20px">内</i><i class="c" style="width:24.20px">部</i><i class="c" style="width:24.20px">冷</i><i class="c" style="width:24.20px">端</i><i class="c" style="width:24.20px">误</i><i class="c" style="width:24.20px">差</i><i style="width:24.20px">≦</i><i style="width:12.10px"><b class="l" style="transform:scaleX(0.875)">1</b></i><i style="width:24.20px">℃</i><i style="width:24.20px">）</i></div>
<div class="h2">外形尺寸</div>
<svg width="990" height="1259" viewBox="0 0 990 1259"><polyline points="60.50,939.70 25.00,939.70 25.00,954.20 60.50,954.20" fill="none" stroke="#231815" stroke-width="1.8" stroke-linejoin="miter" />
<polyline points="25.00,954.20 16.30,966.70 30.60,1018.30 19.80,1036.70 25.00,1055.60" fill="none" stroke="#231815" stroke-width="1.8" stroke-linejoin="miter" />
<polyline points="60.50,1054.60 25.00,1055.60 25.00,1063.90 60.50,1063.90" fill="none" stroke="#231815" stroke-width="1.8" stroke-linejoin="miter" />
<polyline points="138.30,937.80 173.60,937.80 173.60,952.80 138.30,952.80" fill="none" stroke="#231815" stroke-width="1.8" stroke-linejoin="miter" />
<polyline points="173.60,952.80 165.30,974.40 180.30,1020.00 169.80,1039.40 173.60,1054.40" fill="none" stroke="#231815" stroke-width="1.8" stroke-linejoin="miter" />
<polyline points="138.30,1054.40 173.60,1054.40 173.60,1062.20 138.30,1062.20" fill="none" stroke="#231815" stroke-width="1.8" stroke-linejoin="miter" />
<rect x="65.10" y="773.40" width="70.40" height="38.60" fill="#f3f3f3" stroke="#231815" stroke-width="2.3" />
<line x1="65.00" y1="792.30" x2="136.00" y2="792.30" stroke="#231815" stroke-width="2.0" />
<rect x="65.10" y="1198.00" width="70.30" height="22.70" fill="#f3f3f3" stroke="#231815" stroke-width="2.3" />
<clipPath id="ctop"><rect x="66" y="793" width="69" height="16"/></clipPath>
<g clip-path="url(#ctop)">
<circle cx="80.60" cy="801.80" r="7.40" fill="none" stroke="#5a5252" stroke-width="0.9"/>
<circle cx="80.60" cy="801.80" r="5.90" fill="none" stroke="#5a5252" stroke-width="0.9"/>
<line x1="77.80" y1="808.00" x2="82.80" y2="795.60" stroke="#5a5252" stroke-width="0.9" />
<line x1="79.60" y1="808.20" x2="84.60" y2="796.20" stroke="#5a5252" stroke-width="0.9" />
<circle cx="98.70" cy="801.80" r="7.40" fill="none" stroke="#5a5252" stroke-width="0.9"/>
<circle cx="98.70" cy="801.80" r="5.90" fill="none" stroke="#5a5252" stroke-width="0.9"/>
<line x1="97.40" y1="795.80" x2="98.40" y2="807.80" stroke="#5a5252" stroke-width="0.9" />
<line x1="99.50" y1="795.80" x2="100.50" y2="807.80" stroke="#5a5252" stroke-width="0.9" />
<circle cx="116.40" cy="801.80" r="7.40" fill="none" stroke="#5a5252" stroke-width="0.9"/>
<circle cx="116.40" cy="801.80" r="5.90" fill="none" stroke="#5a5252" stroke-width="0.9"/>
<line x1="111.90" y1="806.30" x2="120.20" y2="797.00" stroke="#5a5252" stroke-width="0.9" />
<line x1="113.20" y1="807.40" x2="121.40" y2="798.20" stroke="#5a5252" stroke-width="0.9" />
</g>
<clipPath id="cbot"><rect x="66" y="1201.5" width="69" height="18.2"/></clipPath>
<g clip-path="url(#cbot)">
<circle cx="80.10" cy="1210.40" r="7.40" fill="none" stroke="#5a5252" stroke-width="0.9"/>
<circle cx="80.10" cy="1210.40" r="5.90" fill="none" stroke="#5a5252" stroke-width="0.9"/>
<line x1="77.30" y1="1216.60" x2="82.30" y2="1204.20" stroke="#5a5252" stroke-width="0.9" />
<line x1="79.10" y1="1216.80" x2="84.10" y2="1204.80" stroke="#5a5252" stroke-width="0.9" />
<circle cx="98.10" cy="1210.40" r="7.40" fill="none" stroke="#5a5252" stroke-width="0.9"/>
<circle cx="98.10" cy="1210.40" r="5.90" fill="none" stroke="#5a5252" stroke-width="0.9"/>
<line x1="96.80" y1="1204.40" x2="97.80" y2="1216.40" stroke="#5a5252" stroke-width="0.9" />
<line x1="98.90" y1="1204.40" x2="99.90" y2="1216.40" stroke="#5a5252" stroke-width="0.9" />
<circle cx="116.10" cy="1210.40" r="7.40" fill="none" stroke="#5a5252" stroke-width="0.9"/>
<circle cx="116.10" cy="1210.40" r="5.90" fill="none" stroke="#5a5252" stroke-width="0.9"/>
<line x1="111.60" y1="1214.90" x2="119.90" y2="1205.60" stroke="#5a5252" stroke-width="0.9" />
<line x1="112.90" y1="1216.00" x2="121.10" y2="1206.80" stroke="#5a5252" stroke-width="0.9" />
</g>
<ellipse cx="127.90" cy="797.90" rx="3.20" ry="3.80" fill="#231815"/>
<ellipse cx="127.90" cy="1213.10" rx="3.20" ry="3.80" fill="#231815"/>
<rect x="61.30" y="810.40" width="77.30" height="389.40" fill="#ffffff" stroke="#231815" stroke-width="2.4" />
<line x1="86.10" y1="810.00" x2="86.10" y2="851.50" stroke="#231815" stroke-width="2.0" />
<line x1="62.00" y1="844.50" x2="138.00" y2="844.50" stroke="#231815" stroke-width="1.8" />
<line x1="62.00" y1="851.20" x2="138.00" y2="851.20" stroke="#231815" stroke-width="1.8" />
<line x1="62.00" y1="892.30" x2="138.00" y2="892.30" stroke="#9a9494" stroke-width="1.6" />
<line x1="62.00" y1="894.60" x2="138.00" y2="894.60" stroke="#4a4242" stroke-width="1.2" />
<line x1="62.00" y1="896.80" x2="138.00" y2="896.80" stroke="#9a9494" stroke-width="1.4" />
<line x1="62.00" y1="899.10" x2="138.00" y2="899.10" stroke="#3a3232" stroke-width="1.3" />
<rect x="65.50" y="906.30" width="68.50" height="101.30" fill="none" stroke="#231815" stroke-width="1.6" />
<line x1="62.00" y1="1014.80" x2="138.00" y2="1014.80" stroke="#231815" stroke-width="1.8" />
<line x1="62.00" y1="1021.40" x2="138.00" y2="1021.40" stroke="#231815" stroke-width="1.8" />
<line x1="62.00" y1="1094.90" x2="138.00" y2="1094.90" stroke="#231815" stroke-width="1.8" />
<line x1="62.00" y1="1101.60" x2="138.00" y2="1101.60" stroke="#231815" stroke-width="1.8" />
<line x1="62.00" y1="1121.80" x2="138.00" y2="1121.80" stroke="#b0aaaa" stroke-width="1.6" />
<line x1="62.00" y1="1123.60" x2="138.00" y2="1123.60" stroke="#8a8484" stroke-width="1.8" />
<line x1="62.00" y1="1125.40" x2="138.00" y2="1125.40" stroke="#b8b2b2" stroke-width="1.2" />
<line x1="62.00" y1="1127.60" x2="138.00" y2="1127.60" stroke="#3a3232" stroke-width="1.1" />
<line x1="62.00" y1="1129.30" x2="138.00" y2="1129.30" stroke="#3a3232" stroke-width="1.1" />
<line x1="62.00" y1="1159.70" x2="138.00" y2="1159.70" stroke="#231815" stroke-width="2.0" />
<line x1="62.00" y1="1166.50" x2="138.00" y2="1166.50" stroke="#231815" stroke-width="1.8" />
<line x1="85.60" y1="1159.70" x2="85.60" y2="1200.00" stroke="#231815" stroke-width="2.0" />
<text x="77.80" y="863.80" font-family="Liberation Sans, sans-serif" font-size="11.8" font-weight="normal" text-anchor="middle" fill="#e60012" >7</text>
<text x="98.90" y="863.80" font-family="Liberation Sans, sans-serif" font-size="11.8" font-weight="normal" text-anchor="middle" fill="#e60012" >8</text>
<text x="117.70" y="863.80" font-family="Liberation Sans, sans-serif" font-size="11.8" font-weight="normal" text-anchor="middle" fill="#231815" >9</text>
<text x="77.80" y="876.60" font-family="Liberation Sans, sans-serif" font-size="11.8" font-weight="normal" text-anchor="middle" fill="#231815" >4</text>
<text x="98.90" y="876.60" font-family="Liberation Sans, sans-serif" font-size="11.8" font-weight="normal" text-anchor="middle" fill="#231815" >5</text>
<text x="117.70" y="876.60" font-family="Liberation Sans, sans-serif" font-size="11.8" font-weight="normal" text-anchor="middle" fill="#231815" >6</text>
<text x="77.80" y="888.90" font-family="Liberation Sans, sans-serif" font-size="11.8" font-weight="normal" text-anchor="middle" fill="#231815" >1</text>
<text x="98.90" y="888.90" font-family="Liberation Sans, sans-serif" font-size="11.8" font-weight="normal" text-anchor="middle" fill="#231815" >2</text>
<text x="117.70" y="888.90" font-family="Liberation Sans, sans-serif" font-size="11.8" font-weight="normal" text-anchor="middle" fill="#231815" >3</text>
<text x="79.40" y="1143.00" font-family="Liberation Sans, sans-serif" font-size="12.0" font-weight="normal" text-anchor="middle" fill="#231815" >10</text>
<text x="101.00" y="1143.00" font-family="Liberation Sans, sans-serif" font-size="12.0" font-weight="normal" text-anchor="middle" fill="#231815" >11</text>
<text x="121.80" y="1143.00" font-family="Liberation Sans, sans-serif" font-size="12.0" font-weight="normal" text-anchor="middle" fill="#231815" >12</text>
<text x="79.40" y="1155.80" font-family="Liberation Sans, sans-serif" font-size="12.0" font-weight="normal" text-anchor="middle" fill="#231815" >13</text>
<text x="101.00" y="1155.80" font-family="Liberation Sans, sans-serif" font-size="12.0" font-weight="normal" text-anchor="middle" fill="#231815" >14</text>
<text x="121.80" y="1155.80" font-family="Liberation Sans, sans-serif" font-size="12.0" font-weight="normal" text-anchor="middle" fill="#231815" >15</text>
<text x="76.20" y="916.30" font-family="Liberation Sans, sans-serif" font-size="7.0" font-weight="bold" text-anchor="middle" fill="#231815" >OUT</text>
<text x="92.60" y="916.30" font-family="Liberation Sans, sans-serif" font-size="7.0" font-weight="bold" text-anchor="middle" fill="#231815" >EVT</text>
<text x="109.60" y="916.30" font-family="Liberation Sans, sans-serif" font-size="7.0" font-weight="bold" text-anchor="middle" fill="#231815" >T/R</text>
<text x="123.60" y="916.30" font-family="Liberation Sans, sans-serif" font-size="7.0" font-weight="bold" text-anchor="middle" fill="#231815" >AT</text>
<rect x="73.40" y="918.20" width="7.20" height="3.60" fill="none" stroke="#231815" stroke-width="0.8" />
<rect x="89.60" y="918.20" width="7.20" height="3.60" fill="none" stroke="#231815" stroke-width="0.8" />
<rect x="106.20" y="918.20" width="7.20" height="3.60" fill="none" stroke="#231815" stroke-width="0.8" />
<rect x="120.90" y="918.20" width="7.20" height="3.60" fill="none" stroke="#231815" stroke-width="0.8" />
<text x="68.60" y="931.00" font-family="Liberation Sans, sans-serif" font-size="7.2" font-weight="bold" text-anchor="start" fill="#231815" >PV</text>
<text x="67.60" y="968.00" font-family="Liberation Sans, sans-serif" font-size="7.2" font-weight="bold" text-anchor="start" fill="#231815" >SV</text>
<path d="M73.40,933.30 L82.40,933.30 L83.73,934.80 L81.37,955.20 L79.70,956.70 L70.70,956.70 L69.37,955.20 L71.73,934.80 Z M74.55,936.30 L80.55,936.30 L79.73,943.40 L73.73,943.40 Z M73.37,946.60 L79.37,946.60 L78.55,953.70 L72.55,953.70 Z" fill="none" stroke="#4a4242" stroke-width="0.9" />
<line x1="71.73" y1="934.80" x2="74.55" y2="936.30" stroke="#5a5252" stroke-width="0.8" />
<line x1="83.73" y1="934.80" x2="80.55" y2="936.30" stroke="#5a5252" stroke-width="0.8" />
<line x1="69.37" y1="955.20" x2="72.55" y2="953.70" stroke="#5a5252" stroke-width="0.8" />
<line x1="81.37" y1="955.20" x2="78.55" y2="953.70" stroke="#5a5252" stroke-width="0.8" />
<line x1="70.55" y1="945.00" x2="73.73" y2="943.40" stroke="#5a5252" stroke-width="0.8" />
<line x1="82.55" y1="945.00" x2="79.73" y2="943.40" stroke="#5a5252" stroke-width="0.8" />
<line x1="70.55" y1="945.00" x2="73.37" y2="946.60" stroke="#5a5252" stroke-width="0.8" />
<line x1="82.55" y1="945.00" x2="79.37" y2="946.60" stroke="#5a5252" stroke-width="0.8" />
<line x1="70.55" y1="945.00" x2="82.55" y2="945.00" stroke="#5a5252" stroke-width="0.8" />
<path d="M73.40,971.20 L82.40,971.20 L83.73,972.70 L81.37,993.10 L79.70,994.60 L70.70,994.60 L69.37,993.10 L71.73,972.70 Z M74.55,974.20 L80.55,974.20 L79.73,981.30 L73.73,981.30 Z M73.37,984.50 L79.37,984.50 L78.55,991.60 L72.55,991.60 Z" fill="none" stroke="#4a4242" stroke-width="0.9" />
<line x1="71.73" y1="972.70" x2="74.55" y2="974.20" stroke="#5a5252" stroke-width="0.8" />
<line x1="83.73" y1="972.70" x2="80.55" y2="974.20" stroke="#5a5252" stroke-width="0.8" />
<line x1="69.37" y1="993.10" x2="72.55" y2="991.60" stroke="#5a5252" stroke-width="0.8" />
<line x1="81.37" y1="993.10" x2="78.55" y2="991.60" stroke="#5a5252" stroke-width="0.8" />
<line x1="70.55" y1="982.90" x2="73.73" y2="981.30" stroke="#5a5252" stroke-width="0.8" />
<line x1="82.55" y1="982.90" x2="79.73" y2="981.30" stroke="#5a5252" stroke-width="0.8" />
<line x1="70.55" y1="982.90" x2="73.37" y2="984.50" stroke="#5a5252" stroke-width="0.8" />
<line x1="82.55" y1="982.90" x2="79.37" y2="984.50" stroke="#5a5252" stroke-width="0.8" />
<line x1="70.55" y1="982.90" x2="82.55" y2="982.90" stroke="#5a5252" stroke-width="0.8" />
<path d="M89.30,933.30 L98.30,933.30 L99.63,934.80 L97.27,955.20 L95.60,956.70 L86.60,956.70 L85.27,955.20 L87.63,934.80 Z M90.45,936.30 L96.45,936.30 L95.63,943.40 L89.63,943.40 Z M89.27,946.60 L95.27,946.60 L94.45,953.70 L88.45,953.70 Z" fill="none" stroke="#4a4242" stroke-width="0.9" />
<line x1="87.63" y1="934.80" x2="90.45" y2="936.30" stroke="#5a5252" stroke-width="0.8" />
<line x1="99.63" y1="934.80" x2="96.45" y2="936.30" stroke="#5a5252" stroke-width="0.8" />
<line x1="85.27" y1="955.20" x2="88.45" y2="953.70" stroke="#5a5252" stroke-width="0.8" />
<line x1="97.27" y1="955.20" x2="94.45" y2="953.70" stroke="#5a5252" stroke-width="0.8" />
<line x1="86.45" y1="945.00" x2="89.63" y2="943.40" stroke="#5a5252" stroke-width="0.8" />
<line x1="98.45" y1="945.00" x2="95.63" y2="943.40" stroke="#5a5252" stroke-width="0.8" />
<line x1="86.45" y1="945.00" x2="89.27" y2="946.60" stroke="#5a5252" stroke-width="0.8" />
<line x1="98.45" y1="945.00" x2="95.27" y2="946.60" stroke="#5a5252" stroke-width="0.8" />
<line x1="86.45" y1="945.00" x2="98.45" y2="945.00" stroke="#5a5252" stroke-width="0.8" />
<path d="M89.30,971.20 L98.30,971.20 L99.63,972.70 L97.27,993.10 L95.60,994.60 L86.60,994.60 L85.27,993.10 L87.63,972.70 Z M90.45,974.20 L96.45,974.20 L95.63,981.30 L89.63,981.30 Z M89.27,984.50 L95.27,984.50 L94.45,991.60 L88.45,991.60 Z" fill="none" stroke="#4a4242" stroke-width="0.9" />
<line x1="87.63" y1="972.70" x2="90.45" y2="974.20" stroke="#5a5252" stroke-width="0.8" />
<line x1="99.63" y1="972.70" x2="96.45" y2="974.20" stroke="#5a5252" stroke-width="0.8" />
<line x1="85.27" y1="993.10" x2="88.45" y2="991.60" stroke="#5a5252" stroke-width="0.8" />
<line x1="97.27" y1="993.10" x2="94.45" y2="991.60" stroke="#5a5252" stroke-width="0.8" />
<line x1="86.45" y1="982.90" x2="89.63" y2="981.30" stroke="#5a5252" stroke-width="0.8" />
<line x1="98.45" y1="982.90" x2="95.63" y2="981.30" stroke="#5a5252" stroke-width="0.8" />
<line x1="86.45" y1="982.90" x2="89.27" y2="984.50" stroke="#5a5252" stroke-width="0.8" />
<line x1="98.45" y1="982.90" x2="95.27" y2="984.50" stroke="#5a5252" stroke-width="0.8" />
<line x1="86.45" y1="982.90" x2="98.45" y2="982.90" stroke="#5a5252" stroke-width="0.8" />
<path d="M105.20,933.30 L114.20,933.30 L115.53,934.80 L113.17,955.20 L111.50,956.70 L102.50,956.70 L101.17,955.20 L103.53,934.80 Z M106.35,936.30 L112.35,936.30 L111.53,943.40 L105.53,943.40 Z M105.17,946.60 L111.17,946.60 L110.35,953.70 L104.35,953.70 Z" fill="none" stroke="#4a4242" stroke-width="0.9" />
<line x1="103.53" y1="934.80" x2="106.35" y2="936.30" stroke="#5a5252" stroke-width="0.8" />
<line x1="115.53" y1="934.80" x2="112.35" y2="936.30" stroke="#5a5252" stroke-width="0.8" />
<line x1="101.17" y1="955.20" x2="104.35" y2="953.70" stroke="#5a5252" stroke-width="0.8" />
<line x1="113.17" y1="955.20" x2="110.35" y2="953.70" stroke="#5a5252" stroke-width="0.8" />
<line x1="102.35" y1="945.00" x2="105.53" y2="943.40" stroke="#5a5252" stroke-width="0.8" />
<line x1="114.35" y1="945.00" x2="111.53" y2="943.40" stroke="#5a5252" stroke-width="0.8" />
<line x1="102.35" y1="945.00" x2="105.17" y2="946.60" stroke="#5a5252" stroke-width="0.8" />
<line x1="114.35" y1="945.00" x2="111.17" y2="946.60" stroke="#5a5252" stroke-width="0.8" />
<line x1="102.35" y1="945.00" x2="114.35" y2="945.00" stroke="#5a5252" stroke-width="0.8" />
<path d="M105.20,971.20 L114.20,971.20 L115.53,972.70 L113.17,993.10 L111.50,994.60 L102.50,994.60 L101.17,993.10 L103.53,972.70 Z M106.35,974.20 L112.35,974.20 L111.53,981.30 L105.53,981.30 Z M105.17,984.50 L111.17,984.50 L110.35,991.60 L104.35,991.60 Z" fill="none" stroke="#4a4242" stroke-width="0.9" />
<line x1="103.53" y1="972.70" x2="106.35" y2="974.20" stroke="#5a5252" stroke-width="0.8" />
<line x1="115.53" y1="972.70" x2="112.35" y2="974.20" stroke="#5a5252" stroke-width="0.8" />
<line x1="101.17" y1="993.10" x2="104.35" y2="991.60" stroke="#5a5252" stroke-width="0.8" />
<line x1="113.17" y1="993.10" x2="110.35" y2="991.60" stroke="#5a5252" stroke-width="0.8" />
<line x1="102.35" y1="982.90" x2="105.53" y2="981.30" stroke="#5a5252" stroke-width="0.8" />
<line x1="114.35" y1="982.90" x2="111.53" y2="981.30" stroke="#5a5252" stroke-width="0.8" />
<line x1="102.35" y1="982.90" x2="105.17" y2="984.50" stroke="#5a5252" stroke-width="0.8" />
<line x1="114.35" y1="982.90" x2="111.17" y2="984.50" stroke="#5a5252" stroke-width="0.8" />
<line x1="102.35" y1="982.90" x2="114.35" y2="982.90" stroke="#5a5252" stroke-width="0.8" />
<path d="M121.10,933.30 L130.10,933.30 L131.43,934.80 L129.07,955.20 L127.40,956.70 L118.40,956.70 L117.07,955.20 L119.43,934.80 Z M122.25,936.30 L128.25,936.30 L127.43,943.40 L121.43,943.40 Z M121.07,946.60 L127.07,946.60 L126.25,953.70 L120.25,953.70 Z" fill="none" stroke="#4a4242" stroke-width="0.9" />
<line x1="119.43" y1="934.80" x2="122.25" y2="936.30" stroke="#5a5252" stroke-width="0.8" />
<line x1="131.43" y1="934.80" x2="128.25" y2="936.30" stroke="#5a5252" stroke-width="0.8" />
<line x1="117.07" y1="955.20" x2="120.25" y2="953.70" stroke="#5a5252" stroke-width="0.8" />
<line x1="129.07" y1="955.20" x2="126.25" y2="953.70" stroke="#5a5252" stroke-width="0.8" />
<line x1="118.25" y1="945.00" x2="121.43" y2="943.40" stroke="#5a5252" stroke-width="0.8" />
<line x1="130.25" y1="945.00" x2="127.43" y2="943.40" stroke="#5a5252" stroke-width="0.8" />
<line x1="118.25" y1="945.00" x2="121.07" y2="946.60" stroke="#5a5252" stroke-width="0.8" />
<line x1="130.25" y1="945.00" x2="127.07" y2="946.60" stroke="#5a5252" stroke-width="0.8" />
<line x1="118.25" y1="945.00" x2="130.25" y2="945.00" stroke="#5a5252" stroke-width="0.8" />
<path d="M121.10,971.20 L130.10,971.20 L131.43,972.70 L129.07,993.10 L127.40,994.60 L118.40,994.60 L117.07,993.10 L119.43,972.70 Z M122.25,974.20 L128.25,974.20 L127.43,981.30 L121.43,981.30 Z M121.07,984.50 L127.07,984.50 L126.25,991.60 L120.25,991.60 Z" fill="none" stroke="#4a4242" stroke-width="0.9" />
<line x1="119.43" y1="972.70" x2="122.25" y2="974.20" stroke="#5a5252" stroke-width="0.8" />
<line x1="131.43" y1="972.70" x2="128.25" y2="974.20" stroke="#5a5252" stroke-width="0.8" />
<line x1="117.07" y1="993.10" x2="120.25" y2="991.60" stroke="#5a5252" stroke-width="0.8" />
<line x1="129.07" y1="993.10" x2="126.25" y2="991.60" stroke="#5a5252" stroke-width="0.8" />
<line x1="118.25" y1="982.90" x2="121.43" y2="981.30" stroke="#5a5252" stroke-width="0.8" />
<line x1="130.25" y1="982.90" x2="127.43" y2="981.30" stroke="#5a5252" stroke-width="0.8" />
<line x1="118.25" y1="982.90" x2="121.07" y2="984.50" stroke="#5a5252" stroke-width="0.8" />
<line x1="130.25" y1="982.90" x2="127.07" y2="984.50" stroke="#5a5252" stroke-width="0.8" />
<line x1="118.25" y1="982.90" x2="130.25" y2="982.90" stroke="#5a5252" stroke-width="0.8" />
<circle cx="82.00" cy="960.10" r="1.80" fill="none" stroke="#231815" stroke-width="0.8"/>
<circle cx="82.00" cy="998.00" r="1.80" fill="none" stroke="#231815" stroke-width="0.8"/>
<circle cx="98.10" cy="960.10" r="1.80" fill="none" stroke="#231815" stroke-width="0.8"/>
<circle cx="98.10" cy="998.00" r="1.80" fill="none" stroke="#231815" stroke-width="0.8"/>
<circle cx="114.20" cy="960.10" r="1.80" fill="none" stroke="#231815" stroke-width="0.8"/>
<circle cx="114.20" cy="998.00" r="1.80" fill="none" stroke="#231815" stroke-width="0.8"/>
<ellipse cx="124.90" cy="926.70" rx="4.30" ry="4.00" fill="#231815"/>
<ellipse cx="126.30" cy="964.70" rx="4.60" ry="4.80" fill="#231815"/>
<polygon points="79.50,1025.40 72.80,1035.70 86.50,1035.70" fill="#231815" stroke="#231815" stroke-width="0.5" stroke-linejoin="miter" />
<polygon points="111.70,1030.40 122.60,1024.50 122.60,1037.00" fill="#231815" stroke="#231815" stroke-width="0.5" stroke-linejoin="miter" />
<polygon points="73.00,1081.00 86.50,1081.00 79.70,1090.60" fill="#231815" stroke="#231815" stroke-width="0.5" stroke-linejoin="miter" />
<circle cx="79.50" cy="1042.30" r="4.90" fill="none" stroke="#231815" stroke-width="1.4"/>
<circle cx="117.90" cy="1042.30" r="4.90" fill="none" stroke="#231815" stroke-width="1.4"/>
<circle cx="80.00" cy="1073.90" r="4.90" fill="none" stroke="#231815" stroke-width="1.4"/>
<circle cx="117.90" cy="1073.20" r="4.90" fill="none" stroke="#231815" stroke-width="1.4"/>
<ellipse cx="128.90" cy="1070.80" rx="5.00" ry="5.00" fill="#231815"/>
<path d="M116.0,1083.3 C111.2,1083.2 108.6,1085.8 109.4,1088.2 C110.3,1090.6 114,1091.4 117,1090.9 C119.8,1090.4 121.8,1088.8 122.1,1086.0" fill="none" stroke="#231815" stroke-width="2.5" />
<polygon points="122.10,1082.20 117.90,1086.90 126.10,1086.70" fill="#231815" stroke="#231815" stroke-width="0.4" stroke-linejoin="miter" />
<line x1="131.00" y1="798.10" x2="331.60" y2="798.10" stroke="#5a5252" stroke-width="1.1" />
<line x1="131.00" y1="1212.90" x2="331.60" y2="1212.90" stroke="#5a5252" stroke-width="1.1" />
<polyline points="124.90,926.70 215.30,945.40 329.70,945.40" fill="none" stroke="#5a5252" stroke-width="1.0" stroke-linejoin="miter" />
<polyline points="126.30,964.70 216.20,989.40 330.00,989.40" fill="none" stroke="#5a5252" stroke-width="1.0" stroke-linejoin="miter" />
<polyline points="128.90,1070.80 217.80,1107.10 331.00,1107.10" fill="none" stroke="#5a5252" stroke-width="1.0" stroke-linejoin="miter" />
<ellipse cx="127.90" cy="797.90" rx="3.20" ry="3.80" fill="#231815"/>
<ellipse cx="127.90" cy="1213.10" rx="3.20" ry="3.80" fill="#231815"/>
<ellipse cx="124.90" cy="926.70" rx="4.30" ry="4.00" fill="#231815"/>
<ellipse cx="126.30" cy="964.70" rx="4.60" ry="4.80" fill="#231815"/>
<ellipse cx="128.90" cy="1070.80" rx="5.00" ry="5.00" fill="#231815"/>
<text x="333.80" y="789.60" font-family="Liberation Sans, sans-serif" font-size="14.6" font-weight="500" text-anchor="end" fill="#231815" letter-spacing="2.45">可插拔端子</text>
<text x="333.00" y="942.60" font-family="Liberation Sans, sans-serif" font-size="14.6" font-weight="500" text-anchor="end" fill="#231815" letter-spacing="2.45">工作指示灯</text>
<text x="333.80" y="985.20" font-family="Liberation Sans, sans-serif" font-size="14.6" font-weight="500" text-anchor="end" fill="#231815" letter-spacing="2.45">数字显示屏</text>
<text x="334.40" y="1104.30" font-family="Liberation Sans, sans-serif" font-size="14.6" font-weight="500" text-anchor="end" fill="#231815" letter-spacing="2.45">操作按键</text>
<text x="334.40" y="1204.50" font-family="Liberation Sans, sans-serif" font-size="14.6" font-weight="500" text-anchor="end" fill="#231815" letter-spacing="2.45">可插拔端子</text>
<line x1="420.80" y1="786.20" x2="420.80" y2="992.80" stroke="#231815" stroke-width="1.9" />
<line x1="791.50" y1="786.20" x2="791.50" y2="992.90" stroke="#231815" stroke-width="1.9" />
<line x1="432.00" y1="800.50" x2="780.00" y2="800.50" stroke="#231815" stroke-width="1.9" />
<polygon points="421.60,800.50 433.70,794.50 433.70,806.50" fill="#231815" stroke="#231815" stroke-width="0.3" stroke-linejoin="miter" />
<polygon points="790.30,800.50 778.20,794.50 778.20,806.50" fill="#231815" stroke="#231815" stroke-width="0.3" stroke-linejoin="miter" />
<line x1="344.00" y1="829.50" x2="745.80" y2="829.50" stroke="#231815" stroke-width="2.2" />
<line x1="342.20" y1="1211.80" x2="664.40" y2="1211.80" stroke="#231815" stroke-width="2.2" />
<line x1="378.50" y1="840.00" x2="378.50" y2="1201.00" stroke="#231815" stroke-width="1.9" />
<polygon points="378.50,829.80 372.30,840.80 384.70,840.80" fill="#231815" stroke="#231815" stroke-width="0.3" stroke-linejoin="miter" />
<polygon points="378.50,1210.60 372.10,1199.80 384.90,1199.80" fill="#231815" stroke="#231815" stroke-width="0.3" stroke-linejoin="miter" />
<path d="M474.1,829.5 L438.4,851.1 L438.4,865.8 L468.6,899.5 C468.6,913 457,921.8 442.8,921.8 L442.8,929 L472.6,962.3 C472.6,975.5 460,985.4 445.6,985.4 L445.6,1198.4" fill="none" stroke="#231815" stroke-width="2.2" />
<path d="M438.4,851.1 C472,852 495.4,870 495.4,893.4 L495.4,1168.2 C495.4,1180 470,1186.8 445.6,1186.8" fill="none" stroke="#231815" stroke-width="2.2" />
<path d="M745.8,829.5 L774.8,850.5 L774.8,865.4 L745.6,899.5 C745.6,913 756,922 770.3,922 L770.3,929 L741.7,962.3 C741.7,975 752,985.1 767.3,985.1 L767.3,992.9 L738.9,1025 C738.9,1038 749,1048 764.5,1048 L764.7,1202.7 L706.7,1209.1 L664.4,1209.1" fill="none" stroke="#231815" stroke-width="2.2" />
<path d="M774.8,850.5 C742,852 714.8,870 714.8,894.5 L714.9,1168.8 C714.9,1180 740,1187.9 764.7,1187.9" fill="none" stroke="#231815" stroke-width="2.2" />
<rect x="446.30" y="1033.40" width="25.10" height="8.80" fill="none" stroke="#231815" stroke-width="1.6" />
<rect x="446.30" y="1050.45" width="25.10" height="8.80" fill="none" stroke="#231815" stroke-width="1.6" />
<rect x="446.30" y="1067.50" width="25.10" height="8.80" fill="none" stroke="#231815" stroke-width="1.6" />
<rect x="446.30" y="1084.55" width="25.10" height="8.80" fill="none" stroke="#231815" stroke-width="1.6" />
<rect x="446.30" y="1101.60" width="25.10" height="8.80" fill="none" stroke="#231815" stroke-width="1.6" />
<rect x="446.30" y="1118.65" width="25.10" height="8.80" fill="none" stroke="#231815" stroke-width="1.6" />
<rect x="446.30" y="1135.70" width="25.10" height="8.80" fill="none" stroke="#231815" stroke-width="1.6" />
<rect x="446.30" y="1152.75" width="25.10" height="8.80" fill="none" stroke="#231815" stroke-width="1.6" />
<rect x="739.50" y="1070.60" width="24.50" height="8.70" fill="none" stroke="#231815" stroke-width="1.6" />
<rect x="739.50" y="1087.60" width="24.50" height="8.70" fill="none" stroke="#231815" stroke-width="1.6" />
<rect x="739.50" y="1104.60" width="24.50" height="8.70" fill="none" stroke="#231815" stroke-width="1.6" />
<rect x="739.50" y="1121.60" width="24.50" height="8.70" fill="none" stroke="#231815" stroke-width="1.6" />
<rect x="739.50" y="1138.60" width="24.50" height="8.70" fill="none" stroke="#231815" stroke-width="1.6" />
<rect x="739.50" y="1155.60" width="24.50" height="8.70" fill="none" stroke="#231815" stroke-width="1.6" />
<line x1="445.90" y1="1190.80" x2="460.30" y2="1197.40" stroke="#231815" stroke-width="2.2" />
<line x1="445.90" y1="1198.40" x2="460.30" y2="1201.40" stroke="#231815" stroke-width="2.2" />
<rect x="446.20" y="1209.20" width="15.10" height="3.60" fill="#231815"/>
<polyline points="461.30,1211.50 461.30,1192.80 562.90,1192.80" fill="none" stroke="#231815" stroke-width="2.2" stroke-linejoin="miter" />
<rect x="478.20" y="1193.00" width="41.40" height="5.70" fill="none" stroke="#231815" stroke-width="1.8" />
<line x1="485.50" y1="1193.00" x2="485.50" y2="1198.70" stroke="#231815" stroke-width="1.2" />
<line x1="498.00" y1="1193.00" x2="498.00" y2="1198.70" stroke="#231815" stroke-width="1.2" />
<rect x="540.60" y="1194.30" width="4.40" height="3.40" fill="none" stroke="#231815" stroke-width="1.0" />
<polyline points="535.40,1211.50 535.40,1200.70 562.30,1194.40" fill="none" stroke="#231815" stroke-width="2.2" stroke-linejoin="miter" />
<rect x="562.30" y="1191.30" width="11.10" height="8.70" fill="#231815"/>
<rect x="577.40" y="1175.20" width="82.60" height="36.80" fill="none" stroke="#231815" stroke-width="2.0" />
<line x1="582.20" y1="1176.00" x2="582.20" y2="1211.00" stroke="#6a6262" stroke-width="1.4" />
<line x1="585.40" y1="1176.00" x2="585.40" y2="1211.00" stroke="#231815" stroke-width="1.2" />
<line x1="653.60" y1="1176.00" x2="653.60" y2="1211.00" stroke="#231815" stroke-width="1.2" />
<line x1="656.80" y1="1176.00" x2="656.80" y2="1211.00" stroke="#6a6262" stroke-width="1.4" />
<rect x="572.50" y="1190.00" width="8.00" height="31.70" fill="#231815"/>
<rect x="654.50" y="1190.00" width="9.90" height="31.70" fill="#231815"/>
<rect x="572.50" y="1210.60" width="91.90" height="11.10" fill="#231815"/>
<rect x="562.00" y="1191.30" width="18.00" height="8.10" fill="#231815"/>
<rect x="655.00" y="1187.60" width="18.20" height="8.50" fill="#231815"/>
<rect x="439.15" y="868.85" width="2.70" height="2.70" fill="#231815"/>
<rect x="430.58" y="871.59" width="2.70" height="2.70" fill="#231815"/>
<rect x="423.25" y="874.85" width="2.70" height="2.70" fill="#231815"/>
<rect x="427.31" y="882.88" width="2.70" height="2.70" fill="#231815"/>
<rect x="431.36" y="890.92" width="2.70" height="2.70" fill="#231815"/>
<rect x="435.41" y="898.95" width="2.70" height="2.70" fill="#231815"/>
<rect x="439.47" y="906.99" width="2.70" height="2.70" fill="#231815"/>
<rect x="443.52" y="915.02" width="2.70" height="2.70" fill="#231815"/>
<rect x="441.65" y="930.85" width="2.70" height="2.70" fill="#231815"/>
<rect x="432.97" y="933.23" width="2.70" height="2.70" fill="#231815"/>
<rect x="426.72" y="936.69" width="2.70" height="2.70" fill="#231815"/>
<rect x="430.72" y="944.75" width="2.70" height="2.70" fill="#231815"/>
<rect x="434.72" y="952.81" width="2.70" height="2.70" fill="#231815"/>
<rect x="438.72" y="960.87" width="2.70" height="2.70" fill="#231815"/>
<rect x="442.73" y="968.94" width="2.70" height="2.70" fill="#231815"/>
<rect x="446.73" y="977.00" width="2.70" height="2.70" fill="#231815"/>
<rect x="767.15" y="866.85" width="2.70" height="2.70" fill="#231815"/>
<rect x="776.95" y="868.82" width="2.70" height="2.70" fill="#231815"/>
<rect x="786.76" y="870.79" width="2.70" height="2.70" fill="#231815"/>
<rect x="786.05" y="877.59" width="2.70" height="2.70" fill="#231815"/>
<rect x="781.16" y="886.31" width="2.70" height="2.70" fill="#231815"/>
<rect x="776.27" y="895.03" width="2.70" height="2.70" fill="#231815"/>
<rect x="771.38" y="903.76" width="2.70" height="2.70" fill="#231815"/>
<rect x="766.49" y="912.48" width="2.70" height="2.70" fill="#231815"/>
<rect x="767.05" y="932.05" width="2.70" height="2.70" fill="#231815"/>
<rect x="776.35" y="934.43" width="2.70" height="2.70" fill="#231815"/>
<rect x="785.65" y="936.82" width="2.70" height="2.70" fill="#231815"/>
<rect x="782.23" y="944.57" width="2.70" height="2.70" fill="#231815"/>
<rect x="777.45" y="952.89" width="2.70" height="2.70" fill="#231815"/>
<rect x="772.67" y="961.22" width="2.70" height="2.70" fill="#231815"/>
<rect x="767.89" y="969.54" width="2.70" height="2.70" fill="#231815"/>
<rect x="763.10" y="977.86" width="2.70" height="2.70" fill="#231815"/>
<rect x="765.15" y="996.05" width="2.70" height="2.70" fill="#231815"/>
<rect x="774.25" y="998.42" width="2.70" height="2.70" fill="#231815"/>
<rect x="783.34" y="1000.79" width="2.70" height="2.70" fill="#231815"/>
<rect x="780.21" y="1008.31" width="2.70" height="2.70" fill="#231815"/>
<rect x="775.55" y="1016.48" width="2.70" height="2.70" fill="#231815"/>
<rect x="770.90" y="1024.64" width="2.70" height="2.70" fill="#231815"/>
<rect x="766.24" y="1032.81" width="2.70" height="2.70" fill="#231815"/>
<rect x="761.59" y="1040.98" width="2.70" height="2.70" fill="#231815"/>
<text x="573.80" y="786.60" font-family="Liberation Sans, sans-serif" font-size="17.6" font-weight="normal" text-anchor="start" fill="#231815" >111.<tspan dx="5.4">4</tspan><tspan textLength="21" lengthAdjust="spacingAndGlyphs">mm</tspan></text>
<g transform="translate(361.9,1071.1) rotate(-90)">
<text x="0.00" y="0.00" font-family="Liberation Sans, sans-serif" font-size="17.6" font-weight="normal" text-anchor="start" fill="#231815" >121.<tspan dx="4.9">2</tspan><tspan textLength="20.5" lengthAdjust="spacingAndGlyphs">mm</tspan></text>
</g>
<text x="884.80" y="805.40" font-family="Liberation Sans, sans-serif" font-size="17.6" font-weight="normal" text-anchor="start" fill="#231815" >17.<tspan dx="5.0">5</tspan><tspan textLength="21.5" lengthAdjust="spacingAndGlyphs">mm</tspan></text>
<line x1="883.90" y1="808.80" x2="883.90" y2="1210.50" stroke="#2e2626" stroke-width="1.9" />
<line x1="946.50" y1="808.80" x2="946.50" y2="1210.50" stroke="#2e2626" stroke-width="1.5" />
<line x1="888.00" y1="819.80" x2="942.50" y2="819.80" stroke="#231815" stroke-width="1.6" />
<polygon points="884.60,819.80 891.50,816.00 891.50,823.60" fill="#231815" stroke="#231815" stroke-width="0.2" stroke-linejoin="miter" />
<polygon points="945.80,819.80 938.90,816.00 938.90,823.60" fill="#231815" stroke="#231815" stroke-width="0.2" stroke-linejoin="miter" />
<path d="M884,830 Q884,827.8 886.5,827.8 L944,827.8 Q946.5,827.8 946.5,830" fill="none" stroke="#2e2626" stroke-width="2.0" />
<line x1="885.60" y1="829.00" x2="885.60" y2="963.00" stroke="#8a8484" stroke-width="1.0" />
<line x1="943.90" y1="829.00" x2="943.90" y2="963.00" stroke="#8a8484" stroke-width="1.0" />
<path d="M886,836 Q886,838.4 888.5,838.4 L941.5,838.4 Q943.8,838.4 943.8,836" fill="none" stroke="#8a8484" stroke-width="1.2" />
<line x1="885.00" y1="842.50" x2="945.50" y2="842.50" stroke="#4a4242" stroke-width="1.2" />
<rect x="886.00" y="849.60" width="58.30" height="5.00" fill="none" stroke="#8a8484" stroke-width="1.1" />
<rect x="903.30" y="849.20" width="6.00" height="5.80" fill="none" stroke="#4a4242" stroke-width="1.1" />
<rect x="920.30" y="849.20" width="6.40" height="5.80" fill="none" stroke="#4a4242" stroke-width="1.1" />
<rect x="886.00" y="922.90" width="58.30" height="5.20" fill="none" stroke="#8a8484" stroke-width="1.1" />
<rect x="903.40" y="922.50" width="5.60" height="6.00" fill="none" stroke="#4a4242" stroke-width="1.1" />
<rect x="920.40" y="922.50" width="6.30" height="6.00" fill="none" stroke="#4a4242" stroke-width="1.1" />
<rect x="893.00" y="875.40" width="7.80" height="11.30" fill="#e8e8e8"/>
<rect x="892.00" y="870.40" width="9.80" height="17.30" fill="none" stroke="#4a4242" stroke-width="1.3" />
<line x1="893.00" y1="875.20" x2="900.80" y2="875.20" stroke="#4a4242" stroke-width="1.1" />
<line x1="899.80" y1="871.40" x2="899.80" y2="886.70" stroke="#8a8484" stroke-width="0.9" />
<rect x="910.30" y="875.40" width="8.50" height="11.30" fill="#e8e8e8"/>
<rect x="909.30" y="870.40" width="10.50" height="17.30" fill="none" stroke="#4a4242" stroke-width="1.3" />
<line x1="910.30" y1="875.20" x2="918.80" y2="875.20" stroke="#4a4242" stroke-width="1.1" />
<line x1="917.80" y1="871.40" x2="917.80" y2="886.70" stroke="#8a8484" stroke-width="0.9" />
<rect x="928.40" y="875.40" width="8.50" height="11.30" fill="#e8e8e8"/>
<rect x="927.40" y="870.40" width="10.50" height="17.30" fill="none" stroke="#4a4242" stroke-width="1.3" />
<line x1="928.40" y1="875.20" x2="936.90" y2="875.20" stroke="#4a4242" stroke-width="1.1" />
<line x1="935.90" y1="871.40" x2="935.90" y2="886.70" stroke="#8a8484" stroke-width="0.9" />
<rect x="893.30" y="948.40" width="7.30" height="11.90" fill="#e8e8e8"/>
<rect x="892.30" y="943.40" width="9.30" height="17.90" fill="none" stroke="#4a4242" stroke-width="1.3" />
<line x1="893.30" y1="948.20" x2="900.60" y2="948.20" stroke="#4a4242" stroke-width="1.1" />
<line x1="899.60" y1="944.40" x2="899.60" y2="960.30" stroke="#8a8484" stroke-width="0.9" />
<rect x="910.80" y="948.40" width="7.90" height="11.90" fill="#e8e8e8"/>
<rect x="909.80" y="943.40" width="9.90" height="17.90" fill="none" stroke="#4a4242" stroke-width="1.3" />
<line x1="910.80" y1="948.20" x2="918.70" y2="948.20" stroke="#4a4242" stroke-width="1.1" />
<line x1="917.70" y1="944.40" x2="917.70" y2="960.30" stroke="#8a8484" stroke-width="0.9" />
<rect x="929.10" y="948.40" width="7.60" height="11.90" fill="#e8e8e8"/>
<rect x="928.10" y="943.40" width="9.60" height="17.90" fill="none" stroke="#4a4242" stroke-width="1.3" />
<line x1="929.10" y1="948.20" x2="936.70" y2="948.20" stroke="#4a4242" stroke-width="1.1" />
<line x1="935.70" y1="944.40" x2="935.70" y2="960.30" stroke="#8a8484" stroke-width="0.9" />
<line x1="885.00" y1="890.60" x2="946.00" y2="890.60" stroke="#4a4242" stroke-width="1.4" />
<line x1="885.00" y1="908.50" x2="946.00" y2="908.50" stroke="#4a4242" stroke-width="1.4" />
<path d="M886,909.5 Q886,912 888.5,912 L941.5,912 Q943.8,912 943.8,909.5" fill="none" stroke="#8a8484" stroke-width="1.2" />
<line x1="885.00" y1="916.40" x2="946.00" y2="916.40" stroke="#4a4242" stroke-width="1.2" />
<line x1="885.00" y1="963.10" x2="946.00" y2="963.10" stroke="#4a4242" stroke-width="1.4" />
<line x1="885.00" y1="971.40" x2="946.00" y2="971.40" stroke="#4a4242" stroke-width="1.2" />
<line x1="885.00" y1="984.90" x2="901.20" y2="984.90" stroke="#9a9494" stroke-width="1.5" />
<line x1="929.60" y1="984.90" x2="946.00" y2="984.90" stroke="#9a9494" stroke-width="1.5" />
<rect x="901.20" y="971.40" width="28.40" height="25.70" fill="#ffffff" stroke="#4a4242" stroke-width="1.3" />
<line x1="901.50" y1="977.50" x2="929.30" y2="977.50" stroke="#4a4242" stroke-width="1.1" />
<line x1="901.50" y1="992.30" x2="929.30" y2="992.30" stroke="#4a4242" stroke-width="1.1" />
<line x1="884.00" y1="1012.00" x2="946.50" y2="1012.00" stroke="#4a4242" stroke-width="1.4" />
<line x1="915.50" y1="1012.00" x2="915.50" y2="1210.00" stroke="#4a4242" stroke-width="1.0" />
<line x1="883.50" y1="1210.00" x2="947.00" y2="1210.00" stroke="#2e2626" stroke-width="1.6" />
<rect x="889.20" y="1078.10" width="20.50" height="7.10" fill="none" stroke="#4a4242" stroke-width="0.9" />
<line x1="893.10" y1="1078.10" x2="893.10" y2="1085.20" stroke="#7a7272" stroke-width="0.8" />
<line x1="896.60" y1="1078.10" x2="896.60" y2="1085.20" stroke="#7a7272" stroke-width="0.8" />
<line x1="903.00" y1="1078.10" x2="903.00" y2="1085.20" stroke="#7a7272" stroke-width="0.8" />
<line x1="905.80" y1="1078.10" x2="905.80" y2="1085.20" stroke="#7a7272" stroke-width="0.8" />
<rect x="889.20" y="1087.25" width="20.50" height="7.10" fill="none" stroke="#4a4242" stroke-width="0.9" />
<line x1="893.10" y1="1087.25" x2="893.10" y2="1094.35" stroke="#7a7272" stroke-width="0.8" />
<line x1="896.60" y1="1087.25" x2="896.60" y2="1094.35" stroke="#7a7272" stroke-width="0.8" />
<line x1="903.00" y1="1087.25" x2="903.00" y2="1094.35" stroke="#7a7272" stroke-width="0.8" />
<line x1="905.80" y1="1087.25" x2="905.80" y2="1094.35" stroke="#7a7272" stroke-width="0.8" />
<rect x="889.20" y="1096.40" width="20.50" height="7.10" fill="none" stroke="#4a4242" stroke-width="0.9" />
<line x1="893.10" y1="1096.40" x2="893.10" y2="1103.50" stroke="#7a7272" stroke-width="0.8" />
<line x1="896.60" y1="1096.40" x2="896.60" y2="1103.50" stroke="#7a7272" stroke-width="0.8" />
<line x1="903.00" y1="1096.40" x2="903.00" y2="1103.50" stroke="#7a7272" stroke-width="0.8" />
<line x1="905.80" y1="1096.40" x2="905.80" y2="1103.50" stroke="#7a7272" stroke-width="0.8" />
<rect x="889.20" y="1105.55" width="20.50" height="7.10" fill="none" stroke="#4a4242" stroke-width="0.9" />
<line x1="893.10" y1="1105.55" x2="893.10" y2="1112.65" stroke="#7a7272" stroke-width="0.8" />
<line x1="896.60" y1="1105.55" x2="896.60" y2="1112.65" stroke="#7a7272" stroke-width="0.8" />
<line x1="903.00" y1="1105.55" x2="903.00" y2="1112.65" stroke="#7a7272" stroke-width="0.8" />
<line x1="905.80" y1="1105.55" x2="905.80" y2="1112.65" stroke="#7a7272" stroke-width="0.8" />
<rect x="889.20" y="1114.70" width="20.50" height="7.10" fill="none" stroke="#4a4242" stroke-width="0.9" />
<line x1="893.10" y1="1114.70" x2="893.10" y2="1121.80" stroke="#7a7272" stroke-width="0.8" />
<line x1="896.60" y1="1114.70" x2="896.60" y2="1121.80" stroke="#7a7272" stroke-width="0.8" />
<line x1="903.00" y1="1114.70" x2="903.00" y2="1121.80" stroke="#7a7272" stroke-width="0.8" />
<line x1="905.80" y1="1114.70" x2="905.80" y2="1121.80" stroke="#7a7272" stroke-width="0.8" />
<rect x="889.20" y="1123.85" width="20.50" height="7.10" fill="none" stroke="#4a4242" stroke-width="0.9" />
<line x1="893.10" y1="1123.85" x2="893.10" y2="1130.95" stroke="#7a7272" stroke-width="0.8" />
<line x1="896.60" y1="1123.85" x2="896.60" y2="1130.95" stroke="#7a7272" stroke-width="0.8" />
<line x1="903.00" y1="1123.85" x2="903.00" y2="1130.95" stroke="#7a7272" stroke-width="0.8" />
<line x1="905.80" y1="1123.85" x2="905.80" y2="1130.95" stroke="#7a7272" stroke-width="0.8" />
<rect x="889.20" y="1133.00" width="20.50" height="7.10" fill="none" stroke="#4a4242" stroke-width="0.9" />
<line x1="893.10" y1="1133.00" x2="893.10" y2="1140.10" stroke="#7a7272" stroke-width="0.8" />
<line x1="896.60" y1="1133.00" x2="896.60" y2="1140.10" stroke="#7a7272" stroke-width="0.8" />
<line x1="903.00" y1="1133.00" x2="903.00" y2="1140.10" stroke="#7a7272" stroke-width="0.8" />
<line x1="905.80" y1="1133.00" x2="905.80" y2="1140.10" stroke="#7a7272" stroke-width="0.8" />
<rect x="921.00" y="1078.10" width="19.80" height="7.10" fill="none" stroke="#4a4242" stroke-width="0.9" />
<line x1="925.30" y1="1078.10" x2="925.30" y2="1085.20" stroke="#7a7272" stroke-width="0.8" />
<line x1="928.80" y1="1078.10" x2="928.80" y2="1085.20" stroke="#7a7272" stroke-width="0.8" />
<line x1="933.70" y1="1078.10" x2="933.70" y2="1085.20" stroke="#7a7272" stroke-width="0.8" />
<line x1="936.90" y1="1078.10" x2="936.90" y2="1085.20" stroke="#7a7272" stroke-width="0.8" />
<rect x="921.00" y="1087.25" width="19.80" height="7.10" fill="none" stroke="#4a4242" stroke-width="0.9" />
<line x1="925.30" y1="1087.25" x2="925.30" y2="1094.35" stroke="#7a7272" stroke-width="0.8" />
<line x1="928.80" y1="1087.25" x2="928.80" y2="1094.35" stroke="#7a7272" stroke-width="0.8" />
<line x1="933.70" y1="1087.25" x2="933.70" y2="1094.35" stroke="#7a7272" stroke-width="0.8" />
<line x1="936.90" y1="1087.25" x2="936.90" y2="1094.35" stroke="#7a7272" stroke-width="0.8" />
<rect x="921.00" y="1096.40" width="19.80" height="7.10" fill="none" stroke="#4a4242" stroke-width="0.9" />
<line x1="925.30" y1="1096.40" x2="925.30" y2="1103.50" stroke="#7a7272" stroke-width="0.8" />
<line x1="928.80" y1="1096.40" x2="928.80" y2="1103.50" stroke="#7a7272" stroke-width="0.8" />
<line x1="933.70" y1="1096.40" x2="933.70" y2="1103.50" stroke="#7a7272" stroke-width="0.8" />
<line x1="936.90" y1="1096.40" x2="936.90" y2="1103.50" stroke="#7a7272" stroke-width="0.8" />
<rect x="921.00" y="1105.55" width="19.80" height="7.10" fill="none" stroke="#4a4242" stroke-width="0.9" />
<line x1="925.30" y1="1105.55" x2="925.30" y2="1112.65" stroke="#7a7272" stroke-width="0.8" />
<line x1="928.80" y1="1105.55" x2="928.80" y2="1112.65" stroke="#7a7272" stroke-width="0.8" />
<line x1="933.70" y1="1105.55" x2="933.70" y2="1112.65" stroke="#7a7272" stroke-width="0.8" />
<line x1="936.90" y1="1105.55" x2="936.90" y2="1112.65" stroke="#7a7272" stroke-width="0.8" />
<rect x="921.00" y="1114.70" width="19.80" height="7.10" fill="none" stroke="#4a4242" stroke-width="0.9" />
<line x1="925.30" y1="1114.70" x2="925.30" y2="1121.80" stroke="#7a7272" stroke-width="0.8" />
<line x1="928.80" y1="1114.70" x2="928.80" y2="1121.80" stroke="#7a7272" stroke-width="0.8" />
<line x1="933.70" y1="1114.70" x2="933.70" y2="1121.80" stroke="#7a7272" stroke-width="0.8" />
<line x1="936.90" y1="1114.70" x2="936.90" y2="1121.80" stroke="#7a7272" stroke-width="0.8" />
<rect x="921.00" y="1123.85" width="19.80" height="7.10" fill="none" stroke="#4a4242" stroke-width="0.9" />
<line x1="925.30" y1="1123.85" x2="925.30" y2="1130.95" stroke="#7a7272" stroke-width="0.8" />
<line x1="928.80" y1="1123.85" x2="928.80" y2="1130.95" stroke="#7a7272" stroke-width="0.8" />
<line x1="933.70" y1="1123.85" x2="933.70" y2="1130.95" stroke="#7a7272" stroke-width="0.8" />
<line x1="936.90" y1="1123.85" x2="936.90" y2="1130.95" stroke="#7a7272" stroke-width="0.8" />
<rect x="921.00" y="1133.00" width="19.80" height="7.10" fill="none" stroke="#4a4242" stroke-width="0.9" />
<line x1="925.30" y1="1133.00" x2="925.30" y2="1140.10" stroke="#7a7272" stroke-width="0.8" />
<line x1="928.80" y1="1133.00" x2="928.80" y2="1140.10" stroke="#7a7272" stroke-width="0.8" />
<line x1="933.70" y1="1133.00" x2="933.70" y2="1140.10" stroke="#7a7272" stroke-width="0.8" />
<line x1="936.90" y1="1133.00" x2="936.90" y2="1140.10" stroke="#7a7272" stroke-width="0.8" />
<polyline points="883.50,1186.30 862.40,1186.30 862.40,1191.20 883.50,1191.20" fill="none" stroke="#3a3232" stroke-width="1.0" stroke-linejoin="miter" />
<polyline points="862.40,1191.20 858.50,1196.20 864.90,1218.80 862.40,1223.50 971.60,1223.50 975.50,1212.60 965.60,1198.30 970.00,1191.00" fill="none" stroke="#3a3232" stroke-width="1.0" stroke-linejoin="miter" />
<polyline points="947.00,1183.40 968.10,1183.40 968.10,1180.20 974.80,1180.20 974.80,1190.90 947.00,1190.90" fill="none" stroke="#3a3232" stroke-width="1.0" stroke-linejoin="miter" />
<line x1="947.00" y1="1189.80" x2="968.00" y2="1189.80" stroke="#2e2626" stroke-width="1.6" /></svg>
</body></html>
